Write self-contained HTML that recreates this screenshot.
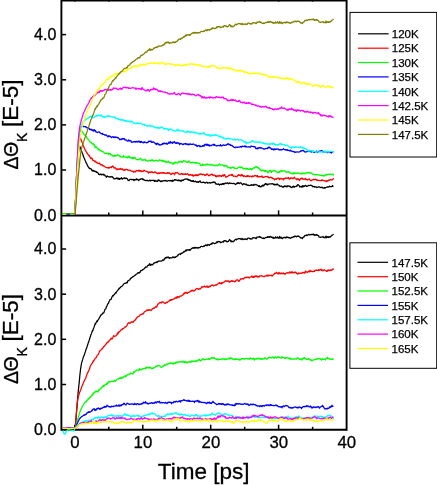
<!DOCTYPE html>
<html><head><meta charset="utf-8"><title>Kerr rotation vs time</title>
<style>
html,body{margin:0;padding:0;background:#fff;}
body{width:437px;height:485px;overflow:hidden;}
svg{display:block;}
</style></head>
<body>
<svg width="437" height="485" viewBox="0 0 437 485">
<rect x="0" y="0" width="437" height="485" fill="#ffffff"/>
<g id="axes">
<g stroke="#000" stroke-width="1.9" fill="none" stroke-linecap="butt">
<line x1="61.4" y1="0" x2="61.4" y2="430.7"/>
<line x1="346.6" y1="0" x2="346.6" y2="430.7"/>
<line x1="61.4" y1="0.5" x2="346.6" y2="0.5"/>
<line x1="61.4" y1="215.5" x2="346.6" y2="215.5"/>
<line x1="61.4" y1="429.75" x2="346.6" y2="429.75"/>
</g>
<g stroke="#000" stroke-width="1.5" fill="none">
<line x1="74.8" y1="0.5" x2="74.8" y2="2.0" stroke-opacity="0.6"/>
<line x1="74.8" y1="215.5" x2="74.8" y2="210.4"/>
<line x1="74.8" y1="429.75" x2="74.8" y2="424.7"/>
<line x1="108.8" y1="0.5" x2="108.8" y2="2.0" stroke-opacity="0.6"/>
<line x1="108.8" y1="215.5" x2="108.8" y2="212.5"/>
<line x1="108.8" y1="429.75" x2="108.8" y2="426.8"/>
<line x1="142.8" y1="0.5" x2="142.8" y2="2.0" stroke-opacity="0.6"/>
<line x1="142.8" y1="215.5" x2="142.8" y2="210.4"/>
<line x1="142.8" y1="429.75" x2="142.8" y2="424.7"/>
<line x1="176.7" y1="0.5" x2="176.7" y2="2.0" stroke-opacity="0.6"/>
<line x1="176.7" y1="215.5" x2="176.7" y2="212.5"/>
<line x1="176.7" y1="429.75" x2="176.7" y2="426.8"/>
<line x1="210.7" y1="0.5" x2="210.7" y2="2.0" stroke-opacity="0.6"/>
<line x1="210.7" y1="215.5" x2="210.7" y2="210.4"/>
<line x1="210.7" y1="429.75" x2="210.7" y2="424.7"/>
<line x1="244.7" y1="0.5" x2="244.7" y2="2.0" stroke-opacity="0.6"/>
<line x1="244.7" y1="215.5" x2="244.7" y2="212.5"/>
<line x1="244.7" y1="429.75" x2="244.7" y2="426.8"/>
<line x1="278.6" y1="0.5" x2="278.6" y2="2.0" stroke-opacity="0.6"/>
<line x1="278.6" y1="215.5" x2="278.6" y2="210.4"/>
<line x1="278.6" y1="429.75" x2="278.6" y2="424.7"/>
<line x1="312.6" y1="0.5" x2="312.6" y2="2.0" stroke-opacity="0.6"/>
<line x1="312.6" y1="215.5" x2="312.6" y2="212.5"/>
<line x1="312.6" y1="429.75" x2="312.6" y2="426.8"/>
<line x1="61.4" y1="170.0" x2="66.1" y2="170.0"/>
<line x1="61.4" y1="124.9" x2="66.1" y2="124.9"/>
<line x1="61.4" y1="79.8" x2="66.1" y2="79.8"/>
<line x1="61.4" y1="34.6" x2="66.1" y2="34.6"/>
<line x1="61.4" y1="384.5" x2="66.1" y2="384.5"/>
<line x1="61.4" y1="339.3" x2="66.1" y2="339.3"/>
<line x1="61.4" y1="294.2" x2="66.1" y2="294.2"/>
<line x1="61.4" y1="249.0" x2="66.1" y2="249.0"/>
</g>
</g>
<g id="top-curves">
<polyline points="62.6,213.7 63.4,213.8 64.2,213.8 65.0,213.8 65.8,213.8 66.6,213.7 67.4,213.7 68.2,213.8 69.0,213.7 69.8,213.7 70.6,213.9 71.4,213.9 72.2,213.9 73.0,213.9 73.8,214.0 74.5,214.0 74.8,213.1 75.2,209.6 75.5,203.9 75.9,197.3 76.2,190.4 76.5,184.3 76.9,177.9 77.2,171.0 77.6,164.3 77.9,158.5 78.2,154.4 78.6,151.6 78.9,149.0 79.3,147.2 79.6,146.4 79.9,146.7 80.3,147.4 80.6,148.4 81.0,149.5 81.3,150.4 81.6,151.2 82.0,152.2 82.3,152.9 82.7,154.0 83.0,155.1 83.3,156.1 83.7,156.8 84.0,157.8 84.4,158.8 84.7,159.0 85.0,160.2 85.4,160.9 85.7,161.6 86.1,162.9 86.4,163.3 86.7,163.6 87.1,164.6 87.4,165.5 87.8,166.0 88.1,166.7 88.4,166.9 88.8,167.6 89.1,168.3 89.5,168.1 89.8,168.6 90.1,168.5 90.5,168.8 90.8,168.6 91.2,169.0 91.5,169.5 91.8,170.4 92.2,170.9 92.5,170.2 92.9,170.6 93.2,171.2 93.5,170.3 93.9,170.8 94.2,170.9 94.6,171.4 94.9,171.3 95.2,171.2 95.6,171.4 95.9,171.6 96.3,172.4 96.6,171.8 96.9,172.1 97.3,172.6 97.6,172.7 98.0,173.1 98.3,173.3 98.6,174.2 99.0,174.2 99.3,174.7 99.7,174.4 100.0,174.2 100.5,174.5 101.0,174.1 101.5,174.8 102.0,174.5 102.5,174.7 103.0,174.1 103.5,175.0 104.0,174.6 104.5,174.8 105.0,175.8 105.5,175.9 106.0,176.4 106.5,177.3 107.0,176.1 107.5,176.1 108.0,176.5 108.5,176.8 109.0,176.7 109.5,176.8 110.0,177.1 110.5,177.0 111.0,176.4 111.5,176.8 112.0,176.8 112.5,176.7 113.0,177.8 113.5,177.9 114.0,178.9 114.5,178.8 115.0,178.8 115.5,178.5 116.0,178.6 116.5,177.9 117.0,178.2 117.5,178.9 118.0,178.0 118.5,179.2 119.0,178.4 119.5,179.4 120.0,178.6 120.5,178.8 121.0,178.3 121.5,177.7 122.0,179.0 122.5,179.1 123.0,178.5 123.5,178.2 124.0,178.1 124.5,177.8 125.0,178.7 125.5,178.1 126.0,178.3 126.5,178.2 127.0,178.6 127.5,178.9 128.0,180.4 128.5,180.3 129.0,180.7 129.5,180.0 130.0,179.3 130.5,179.3 131.0,179.3 131.5,179.6 132.0,179.6 132.5,179.6 133.0,179.3 133.5,179.6 134.0,180.6 134.5,179.7 135.0,179.5 135.5,179.8 136.0,180.0 136.5,178.8 137.0,179.3 137.5,179.5 138.0,179.4 138.5,180.6 139.0,180.1 139.5,179.8 140.0,179.1 140.5,179.4 141.0,178.9 141.5,179.0 142.0,178.7 142.5,178.7 143.0,179.8 143.5,179.2 144.0,179.9 144.5,180.1 145.0,180.3 145.5,180.4 146.0,180.8 146.5,180.4 147.0,180.3 147.5,180.3 148.0,180.8 148.5,180.8 149.0,180.8 149.5,180.4 150.0,180.1 150.5,180.9 151.0,180.7 151.5,180.3 152.0,180.4 152.5,180.3 153.0,180.4 153.5,180.6 154.0,180.4 154.5,181.4 155.0,180.4 155.5,181.1 156.0,180.9 156.5,181.1 157.0,181.5 157.5,181.3 158.0,180.1 158.5,179.8 159.0,180.8 159.5,180.3 160.0,181.0 160.5,181.7 161.0,181.1 161.5,180.9 162.0,181.5 162.5,181.1 163.0,180.8 163.5,180.9 164.0,180.7 164.5,180.5 165.0,180.9 165.5,180.5 166.0,180.3 166.5,181.2 167.0,181.0 167.5,181.1 168.0,180.6 168.5,180.7 169.0,180.6 169.5,180.7 170.0,181.0 170.5,180.4 171.0,180.7 171.5,180.7 172.0,181.4 172.5,180.2 173.0,181.1 173.5,180.7 174.0,180.4 174.5,179.5 175.0,179.7 175.5,180.2 176.0,179.9 176.5,180.1 177.0,180.1 177.5,180.7 178.0,180.4 178.5,179.9 179.0,180.8 179.5,180.6 180.0,180.1 180.5,180.9 181.0,181.3 181.5,180.6 182.0,180.0 182.5,180.0 183.0,180.6 183.5,180.0 184.0,179.6 184.5,179.3 185.0,179.0 185.5,179.0 186.0,179.0 186.5,179.1 187.0,178.8 187.5,179.5 188.0,179.2 188.5,180.2 189.0,179.7 189.5,180.3 190.0,180.5 190.5,180.1 191.0,181.3 191.5,181.2 192.0,180.6 192.5,181.3 193.0,181.5 193.5,180.6 194.0,181.7 194.5,181.6 195.0,181.6 195.5,181.2 196.0,181.7 196.5,181.9 197.0,182.4 197.5,181.9 198.0,181.7 198.5,182.4 199.0,181.5 199.5,181.4 200.0,180.8 200.5,182.2 201.0,182.2 201.5,182.5 202.0,182.6 202.5,182.3 203.0,182.3 203.5,182.2 204.0,182.4 204.5,182.6 205.0,183.2 205.5,182.8 206.0,182.5 206.5,182.3 207.0,182.2 207.5,183.1 208.0,182.9 208.5,182.9 209.0,182.8 209.5,182.5 210.0,182.9 210.5,183.2 211.0,182.6 211.5,182.6 212.0,182.6 212.5,182.6 213.0,181.9 213.5,182.3 214.0,182.0 214.5,182.7 215.0,182.2 215.5,183.2 216.0,184.2 216.5,183.9 217.0,184.0 217.5,184.3 218.0,184.2 218.5,183.9 219.0,184.5 219.5,185.2 220.0,184.3 220.5,184.4 221.0,184.2 221.5,184.6 222.0,183.8 222.5,183.7 223.0,184.4 223.5,183.5 224.0,184.0 224.5,183.8 225.0,183.0 225.5,183.0 226.0,183.7 226.5,183.1 227.0,183.1 227.5,182.8 228.0,183.3 228.5,183.8 229.0,183.5 229.5,182.9 230.0,183.1 230.5,183.2 231.0,183.5 231.5,183.3 232.0,183.5 232.5,183.5 233.0,183.3 233.5,183.4 234.0,183.6 234.5,183.7 235.0,184.1 235.5,184.6 236.0,184.0 236.5,183.7 237.0,183.0 237.5,183.6 238.0,182.6 238.5,182.7 239.0,183.5 239.5,183.5 240.0,183.1 240.5,182.6 241.0,183.2 241.5,183.3 242.0,184.0 242.5,184.8 243.0,184.2 243.5,183.9 244.0,183.7 244.5,184.2 245.0,184.2 245.5,184.1 246.0,184.8 246.5,184.2 247.0,185.0 247.5,185.0 248.0,185.4 248.5,185.1 249.0,185.7 249.5,185.5 250.0,185.4 250.5,185.4 251.0,184.9 251.5,184.6 252.0,185.3 252.5,184.9 253.0,185.1 253.5,185.4 254.0,184.3 254.5,184.6 255.0,184.8 255.5,184.7 256.0,184.3 256.5,185.0 257.0,185.1 257.5,185.1 258.0,185.6 258.5,186.4 259.0,186.4 259.5,185.6 260.0,186.9 260.5,186.7 261.0,186.9 261.5,186.1 262.0,185.8 262.5,185.2 263.0,186.3 263.5,185.1 264.0,185.5 264.5,184.4 265.0,184.5 265.5,183.5 266.0,184.0 266.5,184.5 267.0,183.8 267.5,184.9 268.0,184.7 268.5,184.1 269.0,184.1 269.5,183.9 270.0,183.9 270.5,183.8 271.0,183.8 271.5,184.0 272.0,183.7 272.5,183.6 273.0,184.1 273.5,184.6 274.0,184.0 274.5,184.8 275.0,184.6 275.5,184.4 276.0,184.9 276.5,184.2 277.0,184.8 277.5,184.0 278.0,184.7 278.5,185.0 279.0,185.3 279.5,186.1 280.0,185.9 280.5,186.3 281.0,186.2 281.5,186.0 282.0,186.6 282.5,186.9 283.0,187.3 283.5,186.5 284.0,186.6 284.5,185.8 285.0,186.7 285.5,186.2 286.0,186.0 286.5,186.6 287.0,186.9 287.5,185.8 288.0,185.9 288.5,186.2 289.0,186.0 289.5,186.6 290.0,186.2 290.5,186.6 291.0,187.5 291.5,187.3 292.0,187.7 292.5,186.8 293.0,186.4 293.5,186.1 294.0,187.4 294.5,186.5 295.0,186.7 295.5,186.5 296.0,186.4 296.5,186.0 297.0,186.3 297.5,184.8 298.0,184.6 298.5,185.0 299.0,185.3 299.5,186.5 300.0,187.0 300.5,186.6 301.0,186.4 301.5,186.7 302.0,187.4 302.5,185.6 303.0,186.7 303.5,185.9 304.0,186.6 304.5,185.8 305.0,186.0 305.5,185.3 306.0,185.5 306.5,186.4 307.0,186.4 307.5,186.0 308.0,185.8 308.5,185.3 309.0,185.6 309.5,185.5 310.0,185.4 310.5,185.4 311.0,185.1 311.5,185.6 312.0,185.6 312.5,186.3 313.0,186.8 313.5,186.4 314.0,186.4 314.5,187.0 315.0,186.8 315.5,186.8 316.0,187.2 316.5,187.0 317.0,187.6 317.5,187.1 318.0,187.1 318.5,186.8 319.0,186.8 319.5,186.9 320.0,187.4 320.5,187.3 321.0,187.6 321.5,187.5 322.0,187.1 322.5,187.9 323.0,187.6 323.5,188.1 324.0,188.2 324.5,187.5 325.0,188.1 325.5,187.8 326.0,187.5 326.5,187.2 327.0,187.2 327.5,186.9 328.0,187.1 328.5,186.8 329.0,186.8 329.5,186.2 330.0,186.7 330.5,186.7 331.0,186.7 331.5,186.5 332.0,186.6 332.5,185.5 333.0,186.3 333.5,186.5" fill="none" stroke="#000000" stroke-width="1.25" stroke-linejoin="round"/>
<polyline points="62.6,214.0 63.4,214.0 64.2,214.2 65.0,214.1 65.8,214.4 66.6,214.2 67.4,214.1 68.2,214.3 69.0,214.3 69.8,214.2 70.6,214.0 71.4,214.0 72.2,214.0 73.0,213.7 73.8,213.7 74.5,213.9 74.8,212.8 75.2,208.2 75.5,201.3 75.9,193.3 76.2,185.6 76.5,179.3 76.9,173.7 77.2,168.1 77.6,162.5 77.9,157.4 78.2,152.9 78.6,149.1 78.9,145.6 79.3,142.2 79.6,139.5 79.9,138.1 80.3,138.0 80.6,138.4 81.0,139.4 81.3,140.2 81.6,141.2 82.0,142.0 82.3,142.8 82.7,143.7 83.0,144.8 83.3,145.9 83.7,146.4 84.0,147.7 84.4,148.1 84.7,148.9 85.0,149.9 85.4,150.3 85.7,150.6 86.1,151.8 86.4,151.8 86.7,152.5 87.1,153.0 87.4,153.8 87.8,153.9 88.1,154.8 88.4,154.8 88.8,155.7 89.1,155.5 89.5,156.0 89.8,157.2 90.1,157.2 90.5,157.5 90.8,158.5 91.2,158.0 91.5,157.9 91.8,158.7 92.2,158.5 92.5,159.8 92.9,160.3 93.2,160.1 93.5,160.4 93.9,160.9 94.2,161.0 94.6,160.9 94.9,161.8 95.2,161.0 95.6,161.8 95.9,161.9 96.3,162.1 96.6,162.6 96.9,162.3 97.3,163.2 97.6,163.2 98.0,163.4 98.3,163.3 98.6,163.4 99.0,163.7 99.3,163.0 99.7,163.3 100.0,164.0 100.5,164.4 101.0,165.1 101.5,164.7 102.0,164.6 102.5,165.6 103.0,165.6 103.5,166.1 104.0,165.8 104.5,166.5 105.0,166.8 105.5,167.2 106.0,167.5 106.5,167.6 107.0,167.6 107.5,167.7 108.0,168.1 108.5,167.5 109.0,168.2 109.5,167.3 110.0,167.6 110.5,167.1 111.0,167.0 111.5,167.7 112.0,166.5 112.5,166.0 113.0,166.3 113.5,166.7 114.0,168.0 114.5,167.6 115.0,168.2 115.5,167.9 116.0,168.8 116.5,169.3 117.0,169.9 117.5,168.9 118.0,169.3 118.5,169.2 119.0,168.8 119.5,169.3 120.0,169.2 120.5,168.3 121.0,169.3 121.5,169.4 122.0,169.1 122.5,168.8 123.0,170.0 123.5,169.8 124.0,170.3 124.5,170.4 125.0,169.5 125.5,169.8 126.0,169.2 126.5,169.4 127.0,169.5 127.5,169.7 128.0,170.3 128.5,170.0 129.0,170.0 129.5,170.2 130.0,170.6 130.5,170.4 131.0,170.8 131.5,171.1 132.0,171.0 132.5,171.3 133.0,171.2 133.5,172.3 134.0,172.0 134.5,171.6 135.0,171.2 135.5,171.9 136.0,171.0 136.5,170.5 137.0,170.5 137.5,170.5 138.0,170.9 138.5,170.3 139.0,171.2 139.5,170.4 140.0,171.2 140.5,170.6 141.0,171.7 141.5,171.0 142.0,171.2 142.5,171.6 143.0,171.5 143.5,170.4 144.0,170.6 144.5,170.3 145.0,171.0 145.5,171.0 146.0,171.2 146.5,171.3 147.0,171.6 147.5,171.6 148.0,172.4 148.5,173.0 149.0,171.8 149.5,172.4 150.0,172.2 150.5,172.5 151.0,171.9 151.5,172.1 152.0,171.7 152.5,172.5 153.0,172.5 153.5,172.5 154.0,172.6 154.5,172.3 155.0,171.7 155.5,172.5 156.0,172.6 156.5,172.8 157.0,173.5 157.5,173.8 158.0,172.9 158.5,172.9 159.0,173.7 159.5,173.5 160.0,172.7 160.5,172.7 161.0,173.1 161.5,173.2 162.0,172.6 162.5,173.0 163.0,172.5 163.5,172.6 164.0,173.4 164.5,172.8 165.0,173.1 165.5,173.4 166.0,173.5 166.5,173.1 167.0,173.1 167.5,172.7 168.0,173.6 168.5,173.1 169.0,172.5 169.5,173.1 170.0,173.6 170.5,173.9 171.0,174.5 171.5,174.3 172.0,173.4 172.5,173.5 173.0,173.1 173.5,173.7 174.0,173.8 174.5,174.8 175.0,173.6 175.5,172.5 176.0,172.9 176.5,173.0 177.0,172.3 177.5,172.5 178.0,173.1 178.5,173.9 179.0,174.0 179.5,174.0 180.0,174.6 180.5,174.0 181.0,173.9 181.5,173.5 182.0,173.8 182.5,174.5 183.0,173.7 183.5,174.2 184.0,174.5 184.5,174.1 185.0,174.3 185.5,173.7 186.0,174.5 186.5,174.4 187.0,174.1 187.5,173.6 188.0,174.0 188.5,174.9 189.0,175.3 189.5,174.8 190.0,175.1 190.5,174.5 191.0,174.8 191.5,175.1 192.0,175.3 192.5,174.7 193.0,175.9 193.5,176.2 194.0,175.3 194.5,175.1 195.0,175.7 195.5,175.3 196.0,174.6 196.5,175.6 197.0,175.2 197.5,174.8 198.0,175.7 198.5,174.9 199.0,174.4 199.5,174.6 200.0,174.0 200.5,173.9 201.0,174.4 201.5,174.1 202.0,174.2 202.5,174.8 203.0,174.3 203.5,174.3 204.0,174.5 204.5,174.9 205.0,175.5 205.5,174.9 206.0,175.4 206.5,174.1 207.0,174.4 207.5,174.1 208.0,174.9 208.5,175.4 209.0,175.8 209.5,175.0 210.0,175.2 210.5,174.9 211.0,174.5 211.5,174.1 212.0,174.7 212.5,174.4 213.0,175.4 213.5,175.5 214.0,175.2 214.5,175.1 215.0,175.1 215.5,176.6 216.0,175.6 216.5,176.8 217.0,176.4 217.5,176.0 218.0,175.5 218.5,176.2 219.0,176.3 219.5,175.4 220.0,175.6 220.5,176.1 221.0,175.8 221.5,176.5 222.0,175.5 222.5,175.8 223.0,174.9 223.5,176.1 224.0,175.0 224.5,174.6 225.0,175.8 225.5,176.2 226.0,177.5 226.5,176.8 227.0,176.8 227.5,176.5 228.0,176.3 228.5,175.3 229.0,175.5 229.5,175.3 230.0,174.9 230.5,175.0 231.0,175.0 231.5,174.5 232.0,175.3 232.5,174.5 233.0,175.9 233.5,176.3 234.0,176.2 234.5,176.0 235.0,176.1 235.5,176.3 236.0,176.6 236.5,176.5 237.0,176.7 237.5,175.7 238.0,175.6 238.5,174.6 239.0,175.4 239.5,175.2 240.0,175.2 240.5,176.0 241.0,175.9 241.5,174.5 242.0,175.6 242.5,175.0 243.0,175.9 243.5,176.5 244.0,175.6 244.5,176.1 245.0,176.2 245.5,176.6 246.0,176.7 246.5,176.7 247.0,175.6 247.5,176.4 248.0,175.5 248.5,176.1 249.0,176.7 249.5,176.6 250.0,176.0 250.5,176.2 251.0,176.3 251.5,176.5 252.0,176.9 252.5,175.9 253.0,176.6 253.5,176.5 254.0,176.1 254.5,175.6 255.0,175.8 255.5,175.5 256.0,175.8 256.5,175.9 257.0,176.6 257.5,175.5 258.0,177.0 258.5,176.7 259.0,176.9 259.5,176.8 260.0,176.4 260.5,176.8 261.0,176.4 261.5,176.6 262.0,175.9 262.5,177.3 263.0,177.2 263.5,177.3 264.0,177.2 264.5,177.1 265.0,176.7 265.5,176.6 266.0,176.6 266.5,176.6 267.0,176.3 267.5,176.8 268.0,176.7 268.5,177.2 269.0,178.0 269.5,177.7 270.0,177.6 270.5,177.2 271.0,177.3 271.5,177.3 272.0,178.3 272.5,178.0 273.0,178.6 273.5,178.6 274.0,179.1 274.5,179.8 275.0,179.0 275.5,179.1 276.0,178.8 276.5,179.3 277.0,178.4 277.5,178.3 278.0,178.2 278.5,178.2 279.0,178.9 279.5,179.6 280.0,178.2 280.5,178.9 281.0,178.9 281.5,178.6 282.0,178.9 282.5,179.0 283.0,178.9 283.5,179.9 284.0,178.3 284.5,178.9 285.0,178.5 285.5,177.9 286.0,178.0 286.5,178.3 287.0,178.1 287.5,178.2 288.0,178.4 288.5,177.5 289.0,178.9 289.5,179.2 290.0,178.5 290.5,178.5 291.0,177.6 291.5,178.1 292.0,178.0 292.5,178.3 293.0,178.8 293.5,177.8 294.0,177.8 294.5,177.2 295.0,178.3 295.5,178.9 296.0,178.9 296.5,178.9 297.0,179.9 297.5,178.6 298.0,178.7 298.5,179.0 299.0,180.0 299.5,180.5 300.0,179.6 300.5,178.8 301.0,178.4 301.5,178.7 302.0,178.0 302.5,179.0 303.0,179.3 303.5,178.9 304.0,179.1 304.5,179.0 305.0,179.3 305.5,178.4 306.0,179.6 306.5,179.4 307.0,179.5 307.5,180.0 308.0,179.8 308.5,179.4 309.0,178.9 309.5,179.0 310.0,180.1 310.5,180.7 311.0,180.5 311.5,180.7 312.0,179.9 312.5,179.8 313.0,179.8 313.5,179.3 314.0,179.4 314.5,179.8 315.0,179.5 315.5,179.2 316.0,179.8 316.5,179.7 317.0,180.3 317.5,180.1 318.0,180.2 318.5,180.5 319.0,180.6 319.5,180.4 320.0,180.5 320.5,180.7 321.0,180.5 321.5,180.6 322.0,179.6 322.5,180.3 323.0,180.4 323.5,180.7 324.0,180.5 324.5,180.5 325.0,181.1 325.5,181.1 326.0,180.7 326.5,181.7 327.0,181.4 327.5,180.6 328.0,180.9 328.5,180.1 329.0,180.7 329.5,180.0 330.0,179.7 330.5,179.9 331.0,179.7 331.5,180.0 332.0,179.8 332.5,179.6 333.0,179.2 333.5,178.0" fill="none" stroke="#ff0000" stroke-width="1.25" stroke-linejoin="round"/>
<polyline points="62.6,214.1 63.4,214.0 64.2,213.8 65.0,214.0 65.8,214.1 66.6,214.1 67.4,214.2 68.2,214.2 69.0,214.3 69.8,214.0 70.6,214.0 71.4,214.1 72.2,213.8 73.0,213.8 73.8,213.8 74.5,213.8 74.8,212.8 75.2,208.1 75.5,200.8 75.9,192.4 76.2,184.1 76.5,177.3 76.9,170.9 77.2,164.6 77.6,158.4 77.9,152.8 78.2,148.0 78.6,144.2 78.9,140.7 79.3,137.4 79.6,134.5 79.9,132.2 80.3,130.6 80.6,130.1 81.0,130.3 81.3,130.5 81.6,130.8 82.0,131.1 82.3,131.8 82.7,132.4 83.0,132.8 83.3,133.3 83.7,133.7 84.0,134.3 84.4,134.7 84.7,135.1 85.0,135.2 85.4,135.6 85.7,136.1 86.1,136.3 86.4,136.7 86.7,137.4 87.1,138.3 87.4,138.4 87.8,139.1 88.1,139.1 88.4,139.5 88.8,139.7 89.1,140.4 89.5,141.4 89.8,141.5 90.1,142.0 90.5,142.3 90.8,142.2 91.2,142.3 91.5,142.7 91.8,143.3 92.2,143.7 92.5,144.0 92.9,144.0 93.2,143.6 93.5,144.0 93.9,144.2 94.2,145.6 94.6,145.1 94.9,146.3 95.2,147.7 95.6,146.8 95.9,146.6 96.3,147.1 96.6,147.8 96.9,147.5 97.3,148.1 97.6,148.3 98.0,148.5 98.3,150.1 98.6,149.1 99.0,149.1 99.3,149.4 99.7,150.0 100.0,150.2 100.5,150.7 101.0,150.9 101.5,150.7 102.0,151.7 102.5,151.5 103.0,151.7 103.5,151.8 104.0,152.7 104.5,153.1 105.0,153.6 105.5,153.1 106.0,153.7 106.5,153.6 107.0,153.2 107.5,153.6 108.0,153.6 108.5,154.4 109.0,153.0 109.5,153.8 110.0,153.5 110.5,154.2 111.0,155.0 111.5,154.7 112.0,155.2 112.5,155.1 113.0,156.4 113.5,156.2 114.0,156.4 114.5,155.3 115.0,155.2 115.5,156.1 116.0,155.7 116.5,155.7 117.0,155.6 117.5,154.6 118.0,155.1 118.5,155.0 119.0,155.7 119.5,155.9 120.0,156.7 120.5,156.4 121.0,157.1 121.5,157.2 122.0,157.1 122.5,156.8 123.0,156.7 123.5,155.4 124.0,157.0 124.5,156.8 125.0,157.1 125.5,157.1 126.0,156.8 126.5,157.2 127.0,157.7 127.5,157.8 128.0,156.6 128.5,156.2 129.0,157.1 129.5,156.4 130.0,157.9 130.5,157.5 131.0,157.4 131.5,158.2 132.0,158.6 132.5,157.5 133.0,158.6 133.5,157.7 134.0,158.3 134.5,157.6 135.0,157.4 135.5,158.6 136.0,159.1 136.5,159.7 137.0,159.7 137.5,159.6 138.0,159.5 138.5,159.6 139.0,159.6 139.5,159.1 140.0,159.0 140.5,158.1 141.0,159.2 141.5,159.3 142.0,160.5 142.5,160.1 143.0,159.8 143.5,160.2 144.0,159.6 144.5,159.7 145.0,159.2 145.5,160.6 146.0,160.6 146.5,160.1 147.0,160.7 147.5,161.2 148.0,161.1 148.5,160.8 149.0,160.2 149.5,160.3 150.0,160.6 150.5,161.0 151.0,160.2 151.5,159.9 152.0,160.6 152.5,159.8 153.0,160.7 153.5,160.5 154.0,160.8 154.5,161.1 155.0,160.6 155.5,160.6 156.0,160.1 156.5,160.3 157.0,160.8 157.5,161.1 158.0,160.8 158.5,160.9 159.0,160.0 159.5,159.9 160.0,160.4 160.5,160.3 161.0,160.4 161.5,160.1 162.0,161.1 162.5,160.5 163.0,161.3 163.5,160.7 164.0,161.7 164.5,161.0 165.0,161.9 165.5,161.2 166.0,161.9 166.5,162.7 167.0,161.9 167.5,162.0 168.0,161.7 168.5,161.2 169.0,162.5 169.5,162.7 170.0,162.3 170.5,163.0 171.0,162.6 171.5,162.7 172.0,163.3 172.5,163.3 173.0,164.5 173.5,162.8 174.0,163.4 174.5,163.2 175.0,162.0 175.5,162.0 176.0,162.8 176.5,162.4 177.0,162.7 177.5,163.1 178.0,162.7 178.5,162.3 179.0,161.3 179.5,162.0 180.0,161.2 180.5,161.6 181.0,161.8 181.5,161.4 182.0,162.6 182.5,162.2 183.0,161.8 183.5,160.7 184.0,160.8 184.5,160.8 185.0,161.1 185.5,161.1 186.0,162.0 186.5,162.2 187.0,162.3 187.5,161.9 188.0,162.4 188.5,161.9 189.0,160.9 189.5,161.9 190.0,162.4 190.5,162.9 191.0,162.5 191.5,162.6 192.0,162.3 192.5,162.7 193.0,162.3 193.5,162.3 194.0,162.4 194.5,163.1 195.0,162.9 195.5,162.6 196.0,163.4 196.5,162.7 197.0,162.9 197.5,162.8 198.0,163.2 198.5,163.3 199.0,163.1 199.5,163.7 200.0,163.9 200.5,165.4 201.0,165.2 201.5,165.6 202.0,164.8 202.5,164.0 203.0,165.3 203.5,164.7 204.0,164.8 204.5,164.9 205.0,165.2 205.5,165.2 206.0,164.2 206.5,164.9 207.0,164.1 207.5,164.0 208.0,164.9 208.5,164.8 209.0,164.7 209.5,164.4 210.0,165.2 210.5,165.2 211.0,164.9 211.5,164.5 212.0,164.8 212.5,164.7 213.0,165.2 213.5,165.4 214.0,165.6 214.5,165.1 215.0,165.6 215.5,165.7 216.0,165.1 216.5,165.1 217.0,165.9 217.5,165.3 218.0,165.5 218.5,164.9 219.0,164.9 219.5,163.9 220.0,164.4 220.5,164.9 221.0,165.3 221.5,165.0 222.0,164.8 222.5,164.9 223.0,165.1 223.5,165.7 224.0,166.2 224.5,165.5 225.0,166.0 225.5,165.4 226.0,165.4 226.5,166.1 227.0,166.1 227.5,166.5 228.0,167.7 228.5,167.3 229.0,167.4 229.5,167.8 230.0,168.0 230.5,167.5 231.0,168.3 231.5,167.9 232.0,167.6 232.5,167.6 233.0,167.0 233.5,167.5 234.0,168.0 234.5,168.5 235.0,168.1 235.5,168.1 236.0,168.4 236.5,168.5 237.0,168.3 237.5,168.4 238.0,167.5 238.5,167.3 239.0,167.3 239.5,166.9 240.0,166.9 240.5,167.9 241.0,167.3 241.5,167.0 242.0,167.6 242.5,168.2 243.0,167.9 243.5,168.9 244.0,168.7 244.5,168.7 245.0,168.4 245.5,168.4 246.0,169.0 246.5,168.1 247.0,169.4 247.5,168.6 248.0,169.0 248.5,169.4 249.0,169.3 249.5,169.2 250.0,168.5 250.5,169.2 251.0,168.6 251.5,169.9 252.0,168.8 252.5,169.0 253.0,168.3 253.5,168.2 254.0,167.5 254.5,168.0 255.0,167.1 255.5,167.1 256.0,166.5 256.5,166.6 257.0,167.6 257.5,167.1 258.0,167.3 258.5,168.5 259.0,168.2 259.5,168.8 260.0,169.8 260.5,169.7 261.0,170.7 261.5,170.2 262.0,170.8 262.5,170.5 263.0,170.0 263.5,170.5 264.0,170.5 264.5,171.0 265.0,171.4 265.5,170.4 266.0,171.4 266.5,171.0 267.0,171.7 267.5,171.6 268.0,173.0 268.5,171.8 269.0,171.4 269.5,170.6 270.0,171.2 270.5,170.3 271.0,171.4 271.5,172.4 272.0,171.2 272.5,171.1 273.0,171.1 273.5,170.4 274.0,170.6 274.5,170.9 275.0,170.7 275.5,171.0 276.0,171.1 276.5,171.6 277.0,171.8 277.5,172.6 278.0,172.7 278.5,172.5 279.0,171.6 279.5,172.4 280.0,172.0 280.5,170.9 281.0,170.3 281.5,170.7 282.0,171.6 282.5,170.8 283.0,170.8 283.5,170.8 284.0,171.0 284.5,170.7 285.0,171.0 285.5,171.1 286.0,172.3 286.5,172.4 287.0,172.1 287.5,171.6 288.0,171.6 288.5,172.1 289.0,171.7 289.5,172.7 290.0,172.9 290.5,173.1 291.0,173.5 291.5,173.6 292.0,173.2 292.5,173.4 293.0,174.2 293.5,172.6 294.0,172.9 294.5,173.6 295.0,173.3 295.5,173.1 296.0,172.9 296.5,173.4 297.0,173.3 297.5,173.2 298.0,172.8 298.5,173.4 299.0,173.0 299.5,173.7 300.0,173.6 300.5,173.8 301.0,173.9 301.5,173.8 302.0,172.9 302.5,173.8 303.0,173.3 303.5,173.2 304.0,173.7 304.5,173.2 305.0,173.7 305.5,173.4 306.0,172.9 306.5,173.0 307.0,172.7 307.5,173.0 308.0,172.5 308.5,172.9 309.0,172.4 309.5,172.5 310.0,172.9 310.5,173.3 311.0,172.8 311.5,173.0 312.0,173.6 312.5,174.1 313.0,174.2 313.5,174.4 314.0,174.7 314.5,174.7 315.0,174.8 315.5,174.6 316.0,174.6 316.5,174.7 317.0,174.9 317.5,174.9 318.0,174.8 318.5,174.7 319.0,175.0 319.5,175.0 320.0,175.3 320.5,175.5 321.0,175.3 321.5,175.1 322.0,175.6 322.5,175.6 323.0,175.4 323.5,175.3 324.0,176.3 324.5,175.2 325.0,175.3 325.5,175.3 326.0,174.4 326.5,174.6 327.0,175.0 327.5,174.6 328.0,174.4 328.5,174.3 329.0,174.1 329.5,174.5 330.0,174.3 330.5,174.3 331.0,174.5 331.5,174.6 332.0,174.2 332.5,174.6 333.0,174.0 333.5,175.6" fill="none" stroke="#00ff00" stroke-width="1.25" stroke-linejoin="round"/>
<polyline points="62.6,214.2 63.4,214.1 64.2,214.0 65.0,214.0 65.8,214.0 66.6,214.1 67.4,213.9 68.2,213.9 69.0,213.9 69.8,213.7 70.6,213.8 71.4,213.8 72.2,213.7 73.0,213.8 73.8,213.8 74.5,213.8 74.8,212.7 75.2,208.0 75.5,201.0 75.9,192.5 76.2,184.2 76.5,177.2 76.9,170.6 77.2,163.6 77.6,156.7 77.9,150.4 78.2,145.1 78.6,141.1 78.9,137.8 79.3,134.8 79.6,132.1 79.9,130.0 80.3,128.5 80.6,127.9 81.0,127.5 81.3,127.0 81.6,126.7 82.0,126.3 82.3,126.4 82.7,126.0 83.0,126.1 83.3,126.5 83.7,126.3 84.0,126.7 84.4,126.7 84.7,126.6 85.0,126.4 85.4,126.7 85.7,126.7 86.1,127.3 86.4,127.7 86.7,127.4 87.1,127.8 87.4,127.9 87.8,127.8 88.1,127.8 88.4,128.3 88.8,128.4 89.1,128.4 89.5,129.1 89.8,129.5 90.1,129.1 90.5,129.1 90.8,129.9 91.2,130.0 91.5,129.3 91.8,129.6 92.2,130.4 92.5,130.0 92.9,130.6 93.2,130.7 93.5,131.0 93.9,129.7 94.2,129.6 94.6,130.0 94.9,131.0 95.2,130.9 95.6,130.6 95.9,131.8 96.3,132.2 96.6,132.0 96.9,132.0 97.3,132.3 97.6,132.6 98.0,132.1 98.3,132.1 98.6,131.9 99.0,131.9 99.3,131.9 99.7,132.6 100.0,132.7 100.5,133.0 101.0,133.6 101.5,133.6 102.0,134.0 102.5,133.3 103.0,134.5 103.5,134.3 104.0,134.5 104.5,134.6 105.0,135.3 105.5,135.2 106.0,134.8 106.5,135.1 107.0,136.0 107.5,136.1 108.0,137.0 108.5,135.9 109.0,135.7 109.5,136.3 110.0,136.4 110.5,136.6 111.0,137.1 111.5,137.7 112.0,136.8 112.5,136.8 113.0,136.6 113.5,137.4 114.0,137.6 114.5,137.0 115.0,137.4 115.5,136.9 116.0,137.5 116.5,137.4 117.0,137.2 117.5,137.8 118.0,137.7 118.5,137.8 119.0,138.7 119.5,139.1 120.0,139.8 120.5,139.3 121.0,139.5 121.5,139.0 122.0,139.3 122.5,138.7 123.0,138.3 123.5,139.0 124.0,139.3 124.5,138.7 125.0,140.0 125.5,140.0 126.0,139.9 126.5,140.0 127.0,140.9 127.5,141.0 128.0,141.2 128.5,140.0 129.0,140.3 129.5,141.0 130.0,140.4 130.5,140.8 131.0,140.8 131.5,142.4 132.0,142.3 132.5,142.1 133.0,142.0 133.5,141.7 134.0,141.6 134.5,141.9 135.0,141.3 135.5,142.1 136.0,141.5 136.5,141.3 137.0,142.1 137.5,141.5 138.0,141.8 138.5,141.6 139.0,141.0 139.5,142.2 140.0,141.6 140.5,142.5 141.0,141.5 141.5,141.4 142.0,142.3 142.5,142.5 143.0,142.5 143.5,142.1 144.0,142.8 144.5,141.9 145.0,142.4 145.5,142.3 146.0,142.5 146.5,142.9 147.0,142.3 147.5,142.6 148.0,142.4 148.5,141.2 149.0,141.2 149.5,141.3 150.0,141.2 150.5,141.7 151.0,141.0 151.5,142.3 152.0,142.4 152.5,142.1 153.0,141.7 153.5,142.2 154.0,142.1 154.5,142.8 155.0,143.0 155.5,143.8 156.0,143.7 156.5,144.6 157.0,143.2 157.5,143.6 158.0,144.2 158.5,143.8 159.0,144.9 159.5,144.4 160.0,145.1 160.5,144.8 161.0,144.8 161.5,144.7 162.0,144.1 162.5,143.5 163.0,144.3 163.5,143.4 164.0,143.0 164.5,143.6 165.0,143.4 165.5,143.5 166.0,143.9 166.5,143.1 167.0,144.0 167.5,144.0 168.0,143.4 168.5,143.3 169.0,141.9 169.5,142.7 170.0,143.3 170.5,141.7 171.0,142.2 171.5,142.7 172.0,142.9 172.5,143.3 173.0,142.0 173.5,142.6 174.0,142.7 174.5,141.7 175.0,142.2 175.5,143.2 176.0,143.4 176.5,143.4 177.0,142.4 177.5,143.2 178.0,143.2 178.5,142.9 179.0,143.1 179.5,144.6 180.0,143.6 180.5,143.4 181.0,143.9 181.5,143.7 182.0,144.0 182.5,144.3 183.0,144.7 183.5,144.5 184.0,143.7 184.5,143.8 185.0,143.8 185.5,143.5 186.0,144.3 186.5,144.3 187.0,143.7 187.5,144.2 188.0,144.8 188.5,144.6 189.0,144.0 189.5,144.5 190.0,144.0 190.5,143.8 191.0,144.5 191.5,144.4 192.0,144.5 192.5,144.2 193.0,144.3 193.5,143.9 194.0,144.4 194.5,144.8 195.0,144.8 195.5,145.4 196.0,144.8 196.5,145.5 197.0,146.5 197.5,146.4 198.0,145.7 198.5,145.5 199.0,145.3 199.5,146.2 200.0,146.7 200.5,146.0 201.0,146.7 201.5,146.5 202.0,146.4 202.5,145.6 203.0,146.2 203.5,145.3 204.0,146.1 204.5,145.1 205.0,144.2 205.5,145.0 206.0,144.9 206.5,144.2 207.0,145.4 207.5,144.3 208.0,145.0 208.5,145.6 209.0,144.6 209.5,146.0 210.0,145.7 210.5,145.7 211.0,145.3 211.5,145.7 212.0,145.0 212.5,144.8 213.0,144.8 213.5,144.3 214.0,145.4 214.5,144.4 215.0,144.9 215.5,145.3 216.0,145.6 216.5,145.9 217.0,145.9 217.5,145.5 218.0,145.4 218.5,145.5 219.0,145.8 219.5,145.7 220.0,145.2 220.5,144.6 221.0,146.1 221.5,145.7 222.0,145.5 222.5,145.5 223.0,145.0 223.5,144.8 224.0,145.2 224.5,145.4 225.0,145.3 225.5,145.0 226.0,145.2 226.5,145.1 227.0,144.4 227.5,144.3 228.0,143.5 228.5,144.3 229.0,144.6 229.5,144.4 230.0,144.4 230.5,145.4 231.0,145.1 231.5,145.6 232.0,145.4 232.5,146.1 233.0,146.3 233.5,146.5 234.0,147.4 234.5,147.5 235.0,147.8 235.5,147.2 236.0,147.0 236.5,147.3 237.0,147.3 237.5,147.2 238.0,147.3 238.5,147.0 239.0,147.1 239.5,147.1 240.0,146.9 240.5,146.6 241.0,146.4 241.5,147.2 242.0,146.3 242.5,146.2 243.0,146.3 243.5,146.5 244.0,146.7 244.5,146.2 245.0,145.9 245.5,146.9 246.0,146.2 246.5,146.9 247.0,146.8 247.5,147.0 248.0,147.2 248.5,146.9 249.0,146.9 249.5,146.9 250.0,147.1 250.5,147.2 251.0,146.0 251.5,146.4 252.0,146.3 252.5,146.5 253.0,146.3 253.5,146.6 254.0,146.5 254.5,146.9 255.0,146.7 255.5,147.9 256.0,148.8 256.5,148.4 257.0,148.6 257.5,148.0 258.0,148.8 258.5,147.8 259.0,148.1 259.5,147.7 260.0,147.4 260.5,148.2 261.0,147.9 261.5,147.9 262.0,148.1 262.5,148.2 263.0,148.5 263.5,149.1 264.0,149.0 264.5,149.2 265.0,148.8 265.5,148.4 266.0,148.6 266.5,148.5 267.0,148.4 267.5,148.7 268.0,147.4 268.5,147.9 269.0,147.0 269.5,147.5 270.0,148.0 270.5,147.8 271.0,148.4 271.5,149.4 272.0,149.4 272.5,149.1 273.0,148.8 273.5,150.0 274.0,149.2 274.5,148.9 275.0,149.8 275.5,149.4 276.0,148.8 276.5,149.3 277.0,148.9 277.5,149.2 278.0,149.2 278.5,149.0 279.0,150.0 279.5,149.9 280.0,149.5 280.5,149.5 281.0,150.1 281.5,149.5 282.0,149.5 282.5,149.6 283.0,149.3 283.5,148.6 284.0,149.5 284.5,149.6 285.0,149.7 285.5,150.1 286.0,149.6 286.5,149.9 287.0,150.4 287.5,149.7 288.0,150.5 288.5,150.4 289.0,150.2 289.5,150.8 290.0,150.6 290.5,150.1 291.0,151.1 291.5,151.0 292.0,151.3 292.5,151.3 293.0,151.7 293.5,151.5 294.0,151.3 294.5,152.1 295.0,152.4 295.5,152.0 296.0,152.1 296.5,152.1 297.0,151.8 297.5,151.9 298.0,152.0 298.5,152.2 299.0,152.0 299.5,151.8 300.0,151.6 300.5,151.5 301.0,150.7 301.5,151.0 302.0,150.7 302.5,150.4 303.0,150.4 303.5,150.7 304.0,151.3 304.5,151.4 305.0,152.2 305.5,152.0 306.0,151.9 306.5,151.8 307.0,151.7 307.5,151.2 308.0,151.4 308.5,150.8 309.0,150.4 309.5,150.5 310.0,151.8 310.5,150.6 311.0,151.6 311.5,152.0 312.0,151.0 312.5,151.6 313.0,151.6 313.5,151.5 314.0,152.5 314.5,152.3 315.0,152.1 315.5,152.4 316.0,151.8 316.5,151.1 317.0,151.1 317.5,152.5 318.0,151.6 318.5,151.6 319.0,151.1 319.5,151.2 320.0,151.0 320.5,151.0 321.0,150.7 321.5,150.5 322.0,150.7 322.5,151.1 323.0,151.9 323.5,151.6 324.0,152.0 324.5,151.6 325.0,151.7 325.5,151.5 326.0,152.2 326.5,151.6 327.0,152.2 327.5,152.7 328.0,151.9 328.5,152.1 329.0,151.9 329.5,151.9 330.0,152.4 330.5,152.3 331.0,152.7 331.5,153.0 332.0,151.9 332.5,152.0 333.0,151.9 333.5,151.9" fill="none" stroke="#0000ff" stroke-width="1.25" stroke-linejoin="round"/>
<polyline points="62.6,214.0 63.4,214.1 64.2,213.9 65.0,214.1 65.8,214.2 66.6,214.0 67.4,214.1 68.2,213.7 69.0,214.0 69.8,213.9 70.6,213.7 71.4,214.0 72.2,214.0 73.0,214.0 73.8,214.0 74.5,213.9 74.8,212.8 75.2,208.2 75.5,201.2 75.9,192.8 76.2,184.4 76.5,177.2 76.9,170.2 77.2,162.7 77.6,155.3 77.9,148.5 78.2,142.9 78.6,139.4 78.9,136.5 79.3,134.1 79.6,132.0 79.9,130.0 80.3,128.5 80.6,127.3 81.0,126.4 81.3,125.5 81.6,124.7 82.0,124.2 82.3,123.5 82.7,123.0 83.0,122.5 83.3,121.8 83.7,121.6 84.0,121.0 84.4,120.8 84.7,120.4 85.0,119.8 85.4,120.0 85.7,119.3 86.1,119.5 86.4,119.0 86.7,118.6 87.1,118.4 87.4,118.5 87.8,118.4 88.1,118.0 88.4,118.1 88.8,117.4 89.1,117.6 89.5,117.4 89.8,116.7 90.1,117.1 90.5,116.4 90.8,116.0 91.2,116.5 91.5,116.7 91.8,117.1 92.2,116.7 92.5,117.6 92.9,117.7 93.2,117.6 93.5,117.7 93.9,117.3 94.2,116.8 94.6,117.0 94.9,116.8 95.2,116.3 95.6,115.9 95.9,115.4 96.3,116.2 96.6,116.1 96.9,115.5 97.3,115.8 97.6,115.8 98.0,115.3 98.3,115.5 98.6,115.5 99.0,114.8 99.3,115.4 99.7,115.8 100.0,116.0 100.5,116.1 101.0,114.7 101.5,115.4 102.0,116.0 102.5,116.5 103.0,117.2 103.5,116.6 104.0,117.1 104.5,117.0 105.0,117.6 105.5,116.4 106.0,116.9 106.5,116.6 107.0,116.3 107.5,115.3 108.0,115.9 108.5,116.4 109.0,115.7 109.5,116.2 110.0,116.3 110.5,116.7 111.0,116.6 111.5,116.8 112.0,116.8 112.5,117.1 113.0,117.0 113.5,117.2 114.0,116.9 114.5,117.7 115.0,117.0 115.5,118.4 116.0,118.0 116.5,118.7 117.0,118.6 117.5,119.0 118.0,119.3 118.5,118.5 119.0,119.0 119.5,119.4 120.0,120.0 120.5,119.6 121.0,120.1 121.5,119.9 122.0,119.6 122.5,119.8 123.0,119.4 123.5,120.7 124.0,120.4 124.5,121.0 125.0,120.2 125.5,120.5 126.0,121.3 126.5,120.7 127.0,121.5 127.5,121.2 128.0,121.2 128.5,121.3 129.0,121.2 129.5,122.0 130.0,121.7 130.5,121.1 131.0,121.9 131.5,121.2 132.0,122.0 132.5,121.9 133.0,122.4 133.5,123.6 134.0,123.1 134.5,123.2 135.0,123.3 135.5,123.3 136.0,123.9 136.5,123.0 137.0,122.9 137.5,123.5 138.0,122.7 138.5,123.2 139.0,123.8 139.5,123.4 140.0,123.3 140.5,123.3 141.0,123.4 141.5,123.7 142.0,124.2 142.5,124.7 143.0,124.7 143.5,124.1 144.0,124.2 144.5,125.1 145.0,124.5 145.5,125.3 146.0,125.6 146.5,125.6 147.0,125.9 147.5,126.6 148.0,125.8 148.5,125.6 149.0,125.3 149.5,125.5 150.0,125.2 150.5,126.4 151.0,126.0 151.5,126.1 152.0,126.1 152.5,126.0 153.0,126.0 153.5,127.0 154.0,126.9 154.5,127.0 155.0,127.5 155.5,126.9 156.0,127.6 156.5,127.6 157.0,127.6 157.5,128.3 158.0,127.4 158.5,128.2 159.0,127.6 159.5,128.1 160.0,128.3 160.5,127.7 161.0,126.9 161.5,127.1 162.0,127.3 162.5,127.5 163.0,127.8 163.5,128.6 164.0,129.1 164.5,128.5 165.0,129.1 165.5,129.0 166.0,128.6 166.5,128.1 167.0,129.2 167.5,128.9 168.0,130.1 168.5,130.5 169.0,128.9 169.5,129.5 170.0,129.4 170.5,129.2 171.0,128.8 171.5,129.2 172.0,129.3 172.5,130.4 173.0,130.9 173.5,130.6 174.0,130.5 174.5,130.7 175.0,131.0 175.5,131.1 176.0,130.9 176.5,130.7 177.0,129.9 177.5,129.1 178.0,130.3 178.5,130.9 179.0,130.0 179.5,130.4 180.0,130.7 180.5,130.9 181.0,130.8 181.5,130.9 182.0,130.6 182.5,131.0 183.0,131.3 183.5,131.0 184.0,131.6 184.5,131.6 185.0,132.1 185.5,132.0 186.0,132.6 186.5,131.8 187.0,132.2 187.5,131.0 188.0,131.5 188.5,132.1 189.0,131.8 189.5,132.1 190.0,131.5 190.5,132.7 191.0,132.3 191.5,131.9 192.0,132.1 192.5,132.1 193.0,132.6 193.5,132.2 194.0,131.7 194.5,132.3 195.0,133.1 195.5,132.9 196.0,132.4 196.5,132.8 197.0,133.0 197.5,133.6 198.0,133.1 198.5,133.6 199.0,134.2 199.5,133.7 200.0,133.7 200.5,134.1 201.0,133.4 201.5,133.9 202.0,133.8 202.5,133.7 203.0,133.6 203.5,132.8 204.0,132.5 204.5,134.0 205.0,133.9 205.5,134.8 206.0,134.7 206.5,135.0 207.0,135.3 207.5,135.2 208.0,134.4 208.5,135.3 209.0,134.6 209.5,135.2 210.0,136.2 210.5,135.3 211.0,135.8 211.5,135.0 212.0,135.5 212.5,135.4 213.0,135.6 213.5,135.1 214.0,134.9 214.5,135.3 215.0,134.6 215.5,134.9 216.0,135.5 216.5,135.0 217.0,135.0 217.5,135.1 218.0,135.8 218.5,135.8 219.0,136.2 219.5,136.2 220.0,137.1 220.5,136.4 221.0,136.1 221.5,137.2 222.0,137.4 222.5,137.6 223.0,137.2 223.5,138.5 224.0,138.4 224.5,138.7 225.0,138.3 225.5,138.9 226.0,138.5 226.5,138.9 227.0,138.4 227.5,138.2 228.0,138.8 228.5,138.3 229.0,138.8 229.5,138.3 230.0,138.8 230.5,138.9 231.0,139.0 231.5,139.0 232.0,139.0 232.5,139.5 233.0,139.5 233.5,139.9 234.0,139.7 234.5,138.9 235.0,139.5 235.5,140.0 236.0,139.5 236.5,139.5 237.0,139.5 237.5,139.4 238.0,139.2 238.5,140.2 239.0,140.3 239.5,140.0 240.0,139.9 240.5,139.8 241.0,139.6 241.5,140.0 242.0,140.2 242.5,140.7 243.0,140.7 243.5,141.2 244.0,142.0 244.5,142.0 245.0,141.6 245.5,142.7 246.0,141.9 246.5,143.5 247.0,143.1 247.5,143.1 248.0,142.6 248.5,142.5 249.0,142.7 249.5,142.5 250.0,141.9 250.5,142.0 251.0,142.1 251.5,141.9 252.0,140.9 252.5,140.3 253.0,141.2 253.5,141.2 254.0,141.9 254.5,142.3 255.0,142.2 255.5,141.7 256.0,142.0 256.5,142.2 257.0,141.7 257.5,142.0 258.0,142.4 258.5,142.2 259.0,142.0 259.5,141.9 260.0,142.2 260.5,142.0 261.0,142.6 261.5,142.4 262.0,143.1 262.5,143.2 263.0,142.5 263.5,143.5 264.0,143.0 264.5,143.8 265.0,143.7 265.5,143.7 266.0,144.0 266.5,143.5 267.0,143.9 267.5,144.1 268.0,144.0 268.5,144.2 269.0,143.8 269.5,144.4 270.0,143.7 270.5,144.1 271.0,143.8 271.5,143.7 272.0,143.2 272.5,144.5 273.0,143.2 273.5,143.3 274.0,143.2 274.5,144.4 275.0,144.2 275.5,145.1 276.0,144.5 276.5,145.0 277.0,144.8 277.5,145.2 278.0,144.8 278.5,144.5 279.0,144.8 279.5,143.9 280.0,143.7 280.5,144.1 281.0,143.3 281.5,144.5 282.0,144.3 282.5,144.3 283.0,144.7 283.5,145.0 284.0,144.7 284.5,144.8 285.0,145.3 285.5,145.4 286.0,145.2 286.5,145.0 287.0,145.1 287.5,145.4 288.0,146.1 288.5,146.4 289.0,146.7 289.5,147.5 290.0,147.3 290.5,147.6 291.0,147.6 291.5,148.3 292.0,146.7 292.5,147.3 293.0,147.2 293.5,147.0 294.0,147.9 294.5,147.6 295.0,147.5 295.5,146.8 296.0,147.3 296.5,147.0 297.0,147.2 297.5,147.2 298.0,147.0 298.5,147.4 299.0,147.8 299.5,147.7 300.0,147.4 300.5,146.6 301.0,147.6 301.5,147.7 302.0,147.3 302.5,147.4 303.0,148.0 303.5,147.6 304.0,148.5 304.5,148.2 305.0,148.6 305.5,149.2 306.0,148.8 306.5,149.5 307.0,149.9 307.5,149.7 308.0,150.9 308.5,150.6 309.0,150.9 309.5,150.8 310.0,150.7 310.5,150.9 311.0,150.5 311.5,150.9 312.0,150.9 312.5,151.8 313.0,151.5 313.5,150.7 314.0,151.5 314.5,151.5 315.0,151.6 315.5,152.1 316.0,152.3 316.5,151.8 317.0,151.9 317.5,152.0 318.0,151.6 318.5,152.1 319.0,152.1 319.5,151.9 320.0,151.8 320.5,152.1 321.0,152.2 321.5,152.0 322.0,151.7 322.5,152.3 323.0,152.0 323.5,152.0 324.0,152.0 324.5,151.1 325.0,151.4 325.5,151.3 326.0,151.2 326.5,152.2 327.0,151.9 327.5,151.1 328.0,152.0 328.5,151.6 329.0,152.1 329.5,151.7 330.0,151.5 330.5,151.4 331.0,151.4 331.5,151.4 332.0,151.6 332.5,151.7 333.0,151.9 333.5,151.4" fill="none" stroke="#00ffff" stroke-width="1.25" stroke-linejoin="round"/>
<polyline points="62.6,213.8 63.4,213.6 64.2,213.7 65.0,213.8 65.8,213.8 66.6,213.7 67.4,213.6 68.2,213.6 69.0,213.8 69.8,213.8 70.6,213.8 71.4,214.0 72.2,214.2 73.0,214.1 73.8,213.8 74.5,213.9 74.8,212.9 75.2,208.4 75.5,201.3 75.9,193.0 76.2,184.5 76.5,177.1 76.9,169.7 77.2,161.5 77.6,153.6 77.9,146.5 78.2,140.8 78.6,136.6 78.9,133.0 79.3,129.9 79.6,127.7 79.9,125.8 80.3,124.2 80.6,122.8 81.0,121.6 81.3,120.3 81.6,119.3 82.0,117.9 82.3,116.7 82.7,115.7 83.0,114.7 83.3,113.8 83.7,112.8 84.0,112.0 84.4,111.3 84.7,110.4 85.0,109.6 85.4,109.1 85.7,108.3 86.1,107.5 86.4,106.7 86.7,106.1 87.1,105.6 87.4,105.2 87.8,104.9 88.1,103.9 88.4,103.2 88.8,102.9 89.1,102.3 89.5,101.0 89.8,100.4 90.1,100.0 90.5,99.2 90.8,98.8 91.2,97.8 91.5,98.6 91.8,97.9 92.2,97.5 92.5,97.0 92.9,96.5 93.2,96.6 93.5,96.2 93.9,96.3 94.2,95.1 94.6,95.9 94.9,95.2 95.2,95.4 95.6,94.2 95.9,94.2 96.3,94.1 96.6,93.4 96.9,92.6 97.3,92.8 97.6,92.8 98.0,91.9 98.3,91.9 98.6,92.6 99.0,92.2 99.3,92.6 99.7,91.4 100.0,90.7 100.5,90.7 101.0,91.4 101.5,90.6 102.0,91.1 102.5,91.1 103.0,90.3 103.5,90.7 104.0,90.1 104.5,90.1 105.0,89.3 105.5,89.5 106.0,89.2 106.5,90.1 107.0,90.0 107.5,90.3 108.0,90.5 108.5,89.7 109.0,89.6 109.5,89.8 110.0,90.2 110.5,89.4 111.0,90.2 111.5,89.9 112.0,89.7 112.5,89.7 113.0,88.5 113.5,88.0 114.0,88.5 114.5,88.3 115.0,88.2 115.5,88.2 116.0,88.4 116.5,88.3 117.0,89.1 117.5,89.2 118.0,89.7 118.5,89.6 119.0,89.2 119.5,88.5 120.0,88.4 120.5,88.1 121.0,89.6 121.5,88.6 122.0,88.8 122.5,88.8 123.0,87.4 123.5,87.4 124.0,87.5 124.5,87.3 125.0,87.1 125.5,87.2 126.0,87.9 126.5,87.8 127.0,87.6 127.5,87.7 128.0,87.3 128.5,88.4 129.0,88.4 129.5,87.9 130.0,88.4 130.5,88.3 131.0,88.2 131.5,88.0 132.0,87.9 132.5,87.5 133.0,87.8 133.5,87.8 134.0,87.9 134.5,88.0 135.0,88.1 135.5,89.2 136.0,87.9 136.5,89.1 137.0,88.8 137.5,88.7 138.0,88.5 138.5,88.8 139.0,88.5 139.5,88.6 140.0,89.1 140.5,88.6 141.0,89.5 141.5,89.5 142.0,87.5 142.5,88.2 143.0,89.1 143.5,89.4 144.0,89.7 144.5,90.0 145.0,90.2 145.5,90.4 146.0,91.0 146.5,90.4 147.0,90.6 147.5,89.4 148.0,89.9 148.5,89.6 149.0,90.9 149.5,91.3 150.0,90.6 150.5,89.6 151.0,89.8 151.5,89.6 152.0,89.4 152.5,89.6 153.0,89.4 153.5,87.8 154.0,89.2 154.5,88.5 155.0,88.6 155.5,89.6 156.0,89.3 156.5,89.1 157.0,89.3 157.5,90.2 158.0,90.9 158.5,91.3 159.0,90.8 159.5,90.7 160.0,91.6 160.5,90.8 161.0,91.7 161.5,91.4 162.0,91.5 162.5,91.5 163.0,91.9 163.5,92.0 164.0,92.1 164.5,92.2 165.0,92.0 165.5,92.5 166.0,92.5 166.5,92.5 167.0,92.6 167.5,92.8 168.0,93.9 168.5,93.7 169.0,93.8 169.5,94.0 170.0,94.3 170.5,93.8 171.0,93.7 171.5,93.6 172.0,93.8 172.5,94.0 173.0,94.0 173.5,93.1 174.0,93.1 174.5,92.4 175.0,93.9 175.5,94.3 176.0,94.6 176.5,94.3 177.0,94.6 177.5,94.1 178.0,93.9 178.5,93.4 179.0,93.8 179.5,94.2 180.0,94.9 180.5,95.1 181.0,93.8 181.5,93.7 182.0,93.4 182.5,93.1 183.0,92.9 183.5,93.5 184.0,93.2 184.5,93.5 185.0,93.5 185.5,93.6 186.0,93.9 186.5,94.2 187.0,93.5 187.5,94.1 188.0,93.3 188.5,94.3 189.0,94.5 189.5,94.1 190.0,93.7 190.5,94.6 191.0,94.2 191.5,94.8 192.0,94.7 192.5,94.2 193.0,94.1 193.5,94.6 194.0,94.7 194.5,94.6 195.0,95.4 195.5,95.8 196.0,95.8 196.5,95.5 197.0,95.0 197.5,94.8 198.0,94.4 198.5,94.3 199.0,95.4 199.5,95.1 200.0,95.8 200.5,95.5 201.0,96.4 201.5,96.4 202.0,98.1 202.5,96.7 203.0,96.8 203.5,97.7 204.0,98.0 204.5,96.8 205.0,97.7 205.5,98.0 206.0,97.3 206.5,98.3 207.0,98.0 207.5,97.7 208.0,97.7 208.5,97.5 209.0,96.9 209.5,98.2 210.0,97.1 210.5,96.9 211.0,97.5 211.5,97.2 212.0,97.9 212.5,97.4 213.0,97.8 213.5,97.8 214.0,97.8 214.5,97.5 215.0,97.4 215.5,97.8 216.0,96.7 216.5,96.7 217.0,96.8 217.5,97.3 218.0,97.3 218.5,97.5 219.0,96.8 219.5,97.5 220.0,97.5 220.5,97.6 221.0,97.8 221.5,97.0 222.0,97.7 222.5,97.5 223.0,96.9 223.5,97.7 224.0,98.8 224.5,98.4 225.0,98.9 225.5,98.7 226.0,98.6 226.5,99.0 227.0,99.6 227.5,100.6 228.0,100.6 228.5,100.1 229.0,100.9 229.5,100.5 230.0,100.1 230.5,100.3 231.0,99.7 231.5,99.4 232.0,100.6 232.5,99.5 233.0,100.5 233.5,99.8 234.0,100.5 234.5,100.4 235.0,100.3 235.5,99.9 236.0,101.0 236.5,101.5 237.0,101.3 237.5,101.5 238.0,101.7 238.5,100.7 239.0,101.0 239.5,100.5 240.0,101.3 240.5,101.7 241.0,102.7 241.5,102.3 242.0,102.4 242.5,102.9 243.0,102.1 243.5,102.8 244.0,102.2 244.5,102.4 245.0,103.3 245.5,103.2 246.0,103.7 246.5,102.7 247.0,103.4 247.5,103.0 248.0,103.0 248.5,102.4 249.0,103.4 249.5,103.1 250.0,102.8 250.5,102.9 251.0,103.4 251.5,104.6 252.0,104.2 252.5,104.2 253.0,104.4 253.5,104.3 254.0,104.4 254.5,104.9 255.0,105.0 255.5,105.5 256.0,104.9 256.5,105.6 257.0,105.8 257.5,106.2 258.0,106.1 258.5,105.8 259.0,106.0 259.5,106.7 260.0,106.4 260.5,106.3 261.0,107.1 261.5,107.2 262.0,106.7 262.5,106.9 263.0,106.6 263.5,106.8 264.0,107.2 264.5,106.9 265.0,106.5 265.5,106.4 266.0,106.1 266.5,107.1 267.0,107.3 267.5,107.6 268.0,108.0 268.5,107.7 269.0,108.1 269.5,107.5 270.0,108.3 270.5,108.2 271.0,108.5 271.5,108.5 272.0,108.6 272.5,109.3 273.0,108.9 273.5,109.8 274.0,110.0 274.5,109.1 275.0,108.7 275.5,109.2 276.0,109.1 276.5,109.4 277.0,109.3 277.5,108.7 278.0,109.0 278.5,109.3 279.0,108.7 279.5,108.6 280.0,108.0 280.5,108.4 281.0,108.4 281.5,106.9 282.0,107.8 282.5,108.2 283.0,108.2 283.5,108.5 284.0,108.3 284.5,108.1 285.0,108.4 285.5,108.8 286.0,109.0 286.5,109.8 287.0,109.9 287.5,109.5 288.0,110.3 288.5,109.8 289.0,108.7 289.5,109.5 290.0,109.0 290.5,109.0 291.0,109.7 291.5,108.1 292.0,108.6 292.5,109.7 293.0,109.6 293.5,109.5 294.0,110.6 294.5,110.5 295.0,110.0 295.5,110.5 296.0,111.1 296.5,111.3 297.0,109.6 297.5,110.3 298.0,110.3 298.5,110.0 299.0,110.7 299.5,110.2 300.0,110.5 300.5,111.2 301.0,110.6 301.5,110.5 302.0,110.3 302.5,110.4 303.0,111.1 303.5,110.7 304.0,111.3 304.5,112.1 305.0,111.6 305.5,111.6 306.0,112.1 306.5,112.1 307.0,111.2 307.5,111.1 308.0,111.8 308.5,112.0 309.0,111.9 309.5,112.3 310.0,112.1 310.5,111.8 311.0,112.9 311.5,112.4 312.0,112.3 312.5,112.5 313.0,113.4 313.5,112.9 314.0,112.3 314.5,112.6 315.0,112.4 315.5,112.3 316.0,112.9 316.5,113.2 317.0,113.2 317.5,113.0 318.0,113.5 318.5,112.6 319.0,113.8 319.5,114.0 320.0,114.8 320.5,114.4 321.0,116.2 321.5,115.0 322.0,115.3 322.5,115.8 323.0,115.3 323.5,115.4 324.0,114.9 324.5,115.6 325.0,115.6 325.5,115.7 326.0,115.6 326.5,116.2 327.0,116.5 327.5,116.3 328.0,116.2 328.5,117.0 329.0,115.7 329.5,116.3 330.0,115.8 330.5,116.5 331.0,116.0 331.5,116.8 332.0,117.1 332.5,117.1 333.0,117.4 333.5,116.9" fill="none" stroke="#ff00ff" stroke-width="1.25" stroke-linejoin="round"/>
<polyline points="62.6,213.6 63.4,213.8 64.2,213.7 65.0,213.6 65.8,213.7 66.6,213.6 67.4,213.7 68.2,213.6 69.0,213.6 69.8,213.6 70.6,213.8 71.4,213.8 72.2,213.6 73.0,213.8 73.8,213.8 74.5,213.9 74.8,213.0 75.2,209.3 75.5,203.5 75.9,196.8 76.2,190.1 76.5,184.4 76.9,179.2 77.2,173.9 77.6,168.8 77.9,163.6 78.2,158.7 78.6,154.1 78.9,149.5 79.3,145.4 79.6,141.9 79.9,138.8 80.3,136.2 80.6,133.7 81.0,131.8 81.3,130.0 81.6,128.5 82.0,127.2 82.3,126.0 82.7,124.8 83.0,123.6 83.3,122.6 83.7,121.7 84.0,120.6 84.4,120.1 84.7,118.6 85.0,117.5 85.4,116.4 85.7,115.7 86.1,114.1 86.4,113.5 86.7,112.3 87.1,111.1 87.4,109.8 87.8,109.9 88.1,108.9 88.4,108.3 88.8,107.8 89.1,107.1 89.5,106.8 89.8,105.6 90.1,105.3 90.5,104.8 90.8,104.0 91.2,103.3 91.5,101.9 91.8,101.3 92.2,99.6 92.5,98.4 92.9,98.3 93.2,98.2 93.5,97.0 93.9,96.4 94.2,96.0 94.6,95.6 94.9,94.8 95.2,94.4 95.6,93.0 95.9,93.6 96.3,92.4 96.6,91.0 96.9,91.2 97.3,90.5 97.6,90.7 98.0,89.4 98.3,90.2 98.6,89.2 99.0,88.2 99.3,88.9 99.7,88.0 100.0,87.1 100.5,86.6 101.0,85.1 101.5,85.5 102.0,84.7 102.5,84.3 103.0,84.6 103.5,83.6 104.0,82.9 104.5,82.4 105.0,82.2 105.5,81.8 106.0,80.2 106.5,79.4 107.0,79.8 107.5,79.3 108.0,79.0 108.5,79.5 109.0,77.7 109.5,77.7 110.0,76.5 110.5,76.8 111.0,76.9 111.5,76.9 112.0,75.7 112.5,76.2 113.0,75.8 113.5,75.2 114.0,75.9 114.5,74.6 115.0,73.9 115.5,74.3 116.0,73.3 116.5,74.5 117.0,74.2 117.5,73.6 118.0,73.9 118.5,73.7 119.0,74.3 119.5,73.3 120.0,72.9 120.5,72.1 121.0,72.2 121.5,71.3 122.0,71.6 122.5,71.7 123.0,71.2 123.5,71.1 124.0,72.1 124.5,71.6 125.0,71.6 125.5,71.5 126.0,70.1 126.5,69.9 127.0,71.0 127.5,69.8 128.0,69.2 128.5,69.2 129.0,68.8 129.5,68.3 130.0,68.3 130.5,68.1 131.0,68.0 131.5,68.1 132.0,67.1 132.5,66.9 133.0,67.3 133.5,66.4 134.0,66.7 134.5,66.1 135.0,65.4 135.5,66.3 136.0,65.8 136.5,66.4 137.0,66.7 137.5,66.8 138.0,65.8 138.5,65.9 139.0,65.7 139.5,65.9 140.0,64.5 140.5,65.2 141.0,65.2 141.5,65.0 142.0,64.4 142.5,65.0 143.0,65.0 143.5,64.4 144.0,64.1 144.5,64.1 145.0,64.5 145.5,65.0 146.0,65.0 146.5,64.1 147.0,63.6 147.5,63.3 148.0,63.8 148.5,63.5 149.0,63.6 149.5,63.5 150.0,63.3 150.5,62.9 151.0,62.5 151.5,62.9 152.0,63.5 152.5,63.7 153.0,63.3 153.5,63.0 154.0,63.4 154.5,62.5 155.0,62.8 155.5,62.8 156.0,63.0 156.5,63.0 157.0,63.4 157.5,63.2 158.0,63.7 158.5,63.0 159.0,63.4 159.5,63.9 160.0,63.5 160.5,63.6 161.0,63.6 161.5,62.4 162.0,62.6 162.5,62.1 163.0,63.0 163.5,62.7 164.0,63.4 164.5,64.4 165.0,64.0 165.5,64.2 166.0,64.2 166.5,63.7 167.0,64.2 167.5,63.9 168.0,64.0 168.5,63.6 169.0,63.6 169.5,63.8 170.0,64.0 170.5,63.7 171.0,64.4 171.5,64.6 172.0,64.3 172.5,64.1 173.0,64.4 173.5,64.4 174.0,64.5 174.5,65.3 175.0,64.6 175.5,65.3 176.0,65.4 176.5,65.1 177.0,64.9 177.5,64.5 178.0,64.5 178.5,65.0 179.0,65.4 179.5,64.9 180.0,65.5 180.5,65.6 181.0,65.7 181.5,65.4 182.0,65.5 182.5,65.7 183.0,65.0 183.5,65.4 184.0,64.7 184.5,64.7 185.0,65.2 185.5,64.7 186.0,65.3 186.5,65.1 187.0,64.4 187.5,64.2 188.0,64.1 188.5,64.1 189.0,64.3 189.5,64.6 190.0,64.3 190.5,63.9 191.0,63.5 191.5,63.8 192.0,63.4 192.5,64.4 193.0,64.1 193.5,64.9 194.0,64.0 194.5,64.2 195.0,64.7 195.5,64.7 196.0,64.5 196.5,65.3 197.0,64.6 197.5,64.7 198.0,64.5 198.5,65.5 199.0,65.4 199.5,65.4 200.0,64.7 200.5,65.6 201.0,65.5 201.5,65.9 202.0,66.4 202.5,65.9 203.0,66.4 203.5,66.7 204.0,66.5 204.5,66.5 205.0,66.5 205.5,66.8 206.0,66.5 206.5,67.2 207.0,67.0 207.5,66.6 208.0,67.3 208.5,66.8 209.0,65.8 209.5,67.3 210.0,67.0 210.5,65.7 211.0,65.8 211.5,66.0 212.0,65.9 212.5,65.7 213.0,65.7 213.5,65.7 214.0,65.5 214.5,66.0 215.0,66.2 215.5,66.5 216.0,67.4 216.5,67.1 217.0,68.4 217.5,67.1 218.0,67.8 218.5,68.1 219.0,68.3 219.5,68.3 220.0,68.8 220.5,67.9 221.0,68.3 221.5,68.3 222.0,68.0 222.5,67.7 223.0,68.3 223.5,67.5 224.0,67.7 224.5,67.8 225.0,67.8 225.5,67.7 226.0,67.3 226.5,67.6 227.0,67.8 227.5,68.3 228.0,68.8 228.5,68.0 229.0,68.9 229.5,68.0 230.0,68.5 230.5,68.4 231.0,68.4 231.5,68.1 232.0,69.7 232.5,69.0 233.0,69.1 233.5,69.8 234.0,69.3 234.5,70.1 235.0,70.5 235.5,70.7 236.0,71.0 236.5,71.2 237.0,70.3 237.5,70.8 238.0,70.9 238.5,70.7 239.0,70.9 239.5,70.0 240.0,70.9 240.5,71.0 241.0,70.2 241.5,70.8 242.0,71.5 242.5,71.2 243.0,70.9 243.5,71.2 244.0,72.2 244.5,72.7 245.0,71.6 245.5,72.0 246.0,71.9 246.5,72.3 247.0,72.6 247.5,72.7 248.0,72.7 248.5,73.9 249.0,73.2 249.5,73.3 250.0,74.0 250.5,73.8 251.0,73.7 251.5,74.0 252.0,72.9 252.5,73.3 253.0,73.3 253.5,73.1 254.0,72.9 254.5,73.2 255.0,72.8 255.5,73.6 256.0,73.8 256.5,73.9 257.0,73.4 257.5,73.1 258.0,72.9 258.5,73.2 259.0,73.4 259.5,73.9 260.0,73.6 260.5,73.6 261.0,74.1 261.5,74.3 262.0,74.5 262.5,73.8 263.0,74.1 263.5,74.3 264.0,75.0 264.5,74.7 265.0,74.7 265.5,75.0 266.0,74.4 266.5,75.7 267.0,76.0 267.5,76.1 268.0,77.2 268.5,76.2 269.0,76.4 269.5,77.0 270.0,77.5 270.5,77.4 271.0,76.5 271.5,76.9 272.0,76.7 272.5,77.5 273.0,77.0 273.5,76.5 274.0,76.2 274.5,77.0 275.0,76.7 275.5,77.4 276.0,77.4 276.5,77.2 277.0,77.7 277.5,77.5 278.0,77.4 278.5,78.0 279.0,77.7 279.5,77.5 280.0,77.5 280.5,78.1 281.0,78.2 281.5,78.2 282.0,78.5 282.5,78.4 283.0,78.2 283.5,79.5 284.0,79.0 284.5,78.7 285.0,78.8 285.5,77.8 286.0,78.3 286.5,78.1 287.0,78.5 287.5,77.5 288.0,78.0 288.5,79.1 289.0,79.1 289.5,78.9 290.0,79.8 290.5,78.4 291.0,78.9 291.5,78.6 292.0,79.1 292.5,79.2 293.0,79.5 293.5,80.2 294.0,79.9 294.5,80.9 295.0,81.0 295.5,81.8 296.0,81.5 296.5,81.7 297.0,82.2 297.5,82.6 298.0,81.5 298.5,82.3 299.0,82.6 299.5,82.0 300.0,82.5 300.5,83.4 301.0,82.9 301.5,82.9 302.0,83.8 302.5,82.8 303.0,82.8 303.5,82.2 304.0,82.6 304.5,82.5 305.0,83.7 305.5,83.8 306.0,83.1 306.5,84.4 307.0,84.1 307.5,83.9 308.0,84.3 308.5,84.1 309.0,83.7 309.5,83.5 310.0,83.9 310.5,84.3 311.0,84.3 311.5,84.5 312.0,85.6 312.5,85.2 313.0,86.1 313.5,85.6 314.0,85.8 314.5,85.3 315.0,85.6 315.5,85.1 316.0,84.7 316.5,85.4 317.0,85.5 317.5,86.0 318.0,86.0 318.5,85.7 319.0,86.0 319.5,85.4 320.0,86.1 320.5,87.1 321.0,87.1 321.5,86.5 322.0,85.9 322.5,85.7 323.0,85.7 323.5,85.0 324.0,85.8 324.5,87.1 325.0,87.5 325.5,87.4 326.0,87.1 326.5,86.8 327.0,86.5 327.5,86.2 328.0,85.7 328.5,86.6 329.0,86.5 329.5,86.7 330.0,87.4 330.5,87.1 331.0,86.7 331.5,87.5 332.0,86.9 332.5,87.9 333.0,87.5 333.5,87.2" fill="none" stroke="#ffff00" stroke-width="1.25" stroke-linejoin="round"/>
<polyline points="62.6,214.2 63.4,214.1 64.2,214.2 65.0,214.0 65.8,214.1 66.6,213.9 67.4,214.0 68.2,213.8 69.0,214.0 69.8,213.9 70.6,213.9 71.4,213.9 72.2,213.8 73.0,213.8 73.8,213.9 74.5,213.9 74.8,213.8 75.2,212.5 75.5,208.9 75.9,205.5 76.2,201.4 76.5,197.0 76.9,192.5 77.2,188.2 77.6,184.2 77.9,180.5 78.2,176.8 78.6,173.3 78.9,169.9 79.3,166.6 79.6,163.1 79.9,159.8 80.3,156.5 80.6,153.8 81.0,151.3 81.3,149.5 81.6,147.9 82.0,146.7 82.3,145.5 82.7,144.4 83.0,143.3 83.3,142.1 83.7,141.3 84.0,140.6 84.4,139.8 84.7,138.7 85.0,137.6 85.4,136.5 85.7,135.6 86.1,134.3 86.4,133.5 86.7,132.7 87.1,131.7 87.4,130.5 87.8,129.6 88.1,128.3 88.4,127.6 88.8,126.8 89.1,125.1 89.5,124.6 89.8,123.5 90.1,122.0 90.5,121.5 90.8,119.9 91.2,119.1 91.5,118.4 91.8,117.6 92.2,116.6 92.5,115.4 92.9,115.7 93.2,114.2 93.5,113.4 93.9,112.7 94.2,111.6 94.6,110.5 94.9,109.4 95.2,108.3 95.6,109.1 95.9,107.9 96.3,107.2 96.6,107.0 96.9,106.0 97.3,106.7 97.6,105.4 98.0,105.2 98.3,104.8 98.6,104.1 99.0,103.7 99.3,102.7 99.7,102.5 100.0,101.6 100.5,100.9 101.0,99.7 101.5,99.9 102.0,99.4 102.5,98.7 103.0,97.7 103.5,98.1 104.0,97.3 104.5,95.9 105.0,94.3 105.5,94.0 106.0,93.4 106.5,91.3 107.0,91.2 107.5,89.3 108.0,88.8 108.5,88.2 109.0,86.5 109.5,85.8 110.0,84.8 110.5,84.3 111.0,84.5 111.5,83.4 112.0,81.9 112.5,81.0 113.0,80.4 113.5,80.8 114.0,79.6 114.5,79.5 115.0,78.5 115.5,77.7 116.0,78.1 116.5,77.0 117.0,76.1 117.5,75.6 118.0,75.0 118.5,74.4 119.0,73.3 119.5,73.6 120.0,72.6 120.5,72.4 121.0,71.6 121.5,71.6 122.0,71.1 122.5,70.8 123.0,70.0 123.5,69.3 124.0,68.7 124.5,68.4 125.0,68.4 125.5,68.3 126.0,68.0 126.5,67.4 127.0,68.0 127.5,67.1 128.0,65.7 128.5,65.6 129.0,65.1 129.5,65.1 130.0,64.7 130.5,63.3 131.0,63.4 131.5,62.5 132.0,62.5 132.5,62.1 133.0,61.5 133.5,61.5 134.0,61.1 134.5,60.7 135.0,60.0 135.5,60.0 136.0,59.4 136.5,59.0 137.0,58.8 137.5,58.4 138.0,57.7 138.5,57.6 139.0,58.1 139.5,57.3 140.0,57.5 140.5,56.0 141.0,55.5 141.5,55.7 142.0,55.5 142.5,54.6 143.0,54.6 143.5,54.3 144.0,54.0 144.5,53.2 145.0,52.9 145.5,52.0 146.0,52.3 146.5,52.0 147.0,52.0 147.5,50.6 148.0,50.5 148.5,50.1 149.0,50.4 149.5,48.7 150.0,49.1 150.5,50.4 151.0,50.0 151.5,49.3 152.0,49.8 152.5,49.8 153.0,49.3 153.5,48.6 154.0,48.0 154.5,48.2 155.0,47.5 155.5,47.6 156.0,47.3 156.5,47.0 157.0,47.6 157.5,46.6 158.0,46.6 158.5,46.0 159.0,46.1 159.5,46.1 160.0,46.0 160.5,46.1 161.0,46.2 161.5,46.0 162.0,45.7 162.5,45.0 163.0,45.5 163.5,44.9 164.0,45.0 164.5,43.4 165.0,43.9 165.5,42.6 166.0,42.9 166.5,42.2 167.0,42.8 167.5,42.4 168.0,41.8 168.5,42.4 169.0,43.0 169.5,43.4 170.0,42.6 170.5,42.9 171.0,42.9 171.5,42.9 172.0,42.8 172.5,42.2 173.0,41.8 173.5,42.5 174.0,42.2 174.5,42.7 175.0,42.1 175.5,42.4 176.0,41.5 176.5,41.6 177.0,41.2 177.5,40.9 178.0,39.9 178.5,39.8 179.0,39.1 179.5,39.0 180.0,38.9 180.5,39.6 181.0,38.3 181.5,38.5 182.0,38.1 182.5,38.2 183.0,37.4 183.5,37.1 184.0,36.4 184.5,36.9 185.0,36.4 185.5,35.1 186.0,35.8 186.5,35.6 187.0,34.6 187.5,35.0 188.0,35.1 188.5,34.9 189.0,35.2 189.5,34.5 190.0,35.3 190.5,34.9 191.0,34.2 191.5,33.5 192.0,33.3 192.5,32.8 193.0,33.2 193.5,32.7 194.0,33.1 194.5,32.3 195.0,33.1 195.5,32.5 196.0,32.8 196.5,32.6 197.0,33.2 197.5,32.7 198.0,32.7 198.5,33.0 199.0,32.5 199.5,32.7 200.0,32.6 200.5,31.9 201.0,31.3 201.5,31.4 202.0,31.5 202.5,31.7 203.0,31.7 203.5,31.0 204.0,31.2 204.5,31.3 205.0,30.3 205.5,30.3 206.0,29.8 206.5,30.1 207.0,30.8 207.5,30.1 208.0,29.4 208.5,29.8 209.0,29.8 209.5,30.3 210.0,29.4 210.5,29.4 211.0,29.3 211.5,28.3 212.0,29.0 212.5,27.8 213.0,28.2 213.5,28.0 214.0,28.2 214.5,28.7 215.0,28.5 215.5,28.4 216.0,28.1 216.5,26.9 217.0,27.7 217.5,26.7 218.0,26.9 218.5,26.7 219.0,26.4 219.5,26.9 220.0,26.7 220.5,27.8 221.0,27.3 221.5,27.3 222.0,26.9 222.5,26.9 223.0,26.5 223.5,27.1 224.0,25.6 224.5,25.9 225.0,25.7 225.5,25.8 226.0,26.3 226.5,26.1 227.0,26.8 227.5,26.8 228.0,26.4 228.5,26.4 229.0,25.3 229.5,24.6 230.0,25.0 230.5,25.4 231.0,26.8 231.5,26.0 232.0,26.6 232.5,26.4 233.0,26.9 233.5,26.1 234.0,26.2 234.5,25.5 235.0,24.8 235.5,24.3 236.0,24.1 236.5,24.9 237.0,24.4 237.5,24.0 238.0,23.9 238.5,23.5 239.0,23.6 239.5,23.5 240.0,23.8 240.5,24.2 241.0,23.5 241.5,24.3 242.0,24.6 242.5,23.6 243.0,24.0 243.5,24.3 244.0,24.6 244.5,24.2 245.0,23.8 245.5,24.1 246.0,24.4 246.5,24.1 247.0,24.5 247.5,23.7 248.0,23.0 248.5,23.0 249.0,23.2 249.5,23.3 250.0,23.8 250.5,23.7 251.0,24.2 251.5,23.8 252.0,23.9 252.5,22.9 253.0,22.8 253.5,22.9 254.0,22.5 254.5,22.9 255.0,23.0 255.5,22.8 256.0,23.7 256.5,23.3 257.0,22.0 257.5,22.1 258.0,22.0 258.5,22.1 259.0,21.9 259.5,21.5 260.0,22.3 260.5,21.9 261.0,22.6 261.5,22.5 262.0,23.2 262.5,23.4 263.0,23.4 263.5,22.9 264.0,23.6 264.5,23.5 265.0,22.8 265.5,22.7 266.0,22.4 266.5,22.5 267.0,22.5 267.5,21.7 268.0,22.3 268.5,21.9 269.0,21.6 269.5,22.3 270.0,21.7 270.5,21.4 271.0,22.1 271.5,22.4 272.0,22.0 272.5,22.9 273.0,23.0 273.5,22.5 274.0,23.5 274.5,22.8 275.0,22.9 275.5,21.9 276.0,23.1 276.5,22.5 277.0,22.7 277.5,21.8 278.0,22.9 278.5,23.1 279.0,23.3 279.5,21.5 280.0,22.9 280.5,23.1 281.0,22.0 281.5,23.1 282.0,23.3 282.5,23.7 283.0,22.6 283.5,22.7 284.0,22.4 284.5,22.6 285.0,22.3 285.5,22.8 286.0,22.8 286.5,21.8 287.0,22.7 287.5,22.1 288.0,22.3 288.5,22.8 289.0,22.4 289.5,22.8 290.0,23.2 290.5,23.3 291.0,22.8 291.5,22.3 292.0,22.7 292.5,22.4 293.0,22.1 293.5,21.6 294.0,21.9 294.5,21.5 295.0,20.9 295.5,21.5 296.0,21.7 296.5,21.8 297.0,21.2 297.5,21.2 298.0,21.4 298.5,21.1 299.0,21.3 299.5,22.0 300.0,22.2 300.5,23.0 301.0,22.6 301.5,23.2 302.0,23.0 302.5,23.5 303.0,22.3 303.5,22.0 304.0,22.1 304.5,20.9 305.0,20.4 305.5,20.5 306.0,20.5 306.5,20.0 307.0,20.6 307.5,20.1 308.0,19.9 308.5,19.6 309.0,19.4 309.5,19.9 310.0,19.8 310.5,19.5 311.0,19.4 311.5,19.7 312.0,19.6 312.5,19.7 313.0,19.0 313.5,19.1 314.0,20.1 314.5,19.6 315.0,20.4 315.5,20.2 316.0,19.8 316.5,19.5 317.0,20.3 317.5,20.0 318.0,20.4 318.5,20.5 319.0,22.1 319.5,22.1 320.0,22.2 320.5,22.4 321.0,22.2 321.5,22.0 322.0,22.1 322.5,22.0 323.0,21.3 323.5,22.6 324.0,22.5 324.5,22.3 325.0,22.9 325.5,21.7 326.0,21.1 326.5,22.7 327.0,22.4 327.5,21.7 328.0,22.2 328.5,22.5 329.0,21.5 329.5,21.9 330.0,22.2 330.5,21.7 331.0,21.0 331.5,21.0 332.0,20.1 332.5,20.1 333.0,19.6 333.5,19.0" fill="none" stroke="#808000" stroke-width="1.25" stroke-linejoin="round"/>
<polyline points="63,214.4 65,214.5 67,214.3" fill="none" stroke="#ffff00" stroke-width="1.1"/>
<polyline points="62.6,213.8 64.5,213.6 66.2,213.9" fill="none" stroke="#00ff00" stroke-width="1.1"/>
<polyline points="66.2,214.0 68,214.2 70,214.0" fill="none" stroke="#0000ff" stroke-width="1.1"/>
<polyline points="70,213.9 71.5,213.7 72.8,214.0" fill="none" stroke="#00ff00" stroke-width="1.1"/>
</g>
<g id="bottom-curves">
<polyline points="62.6,429.2 63.4,429.1 64.2,429.2 65.0,429.0 65.8,429.1 66.6,428.9 67.4,429.0 68.2,428.8 69.0,429.0 69.8,428.9 70.6,428.9 71.4,428.9 72.2,428.8 73.0,428.8 73.8,428.9 74.5,428.9 74.8,428.8 75.2,427.5 75.5,423.9 75.9,420.5 76.2,416.4 76.5,412.0 76.9,407.5 77.2,403.2 77.6,399.2 77.9,395.5 78.2,391.8 78.6,388.3 78.9,384.9 79.3,381.6 79.6,378.1 79.9,374.8 80.3,371.5 80.6,368.8 81.0,366.3 81.3,364.5 81.6,362.9 82.0,361.7 82.3,360.5 82.7,359.4 83.0,358.3 83.3,357.1 83.7,356.3 84.0,355.6 84.4,354.8 84.7,353.7 85.0,352.6 85.4,351.5 85.7,350.6 86.1,349.3 86.4,348.5 86.7,347.7 87.1,346.7 87.4,345.5 87.8,344.6 88.1,343.3 88.4,342.6 88.8,341.8 89.1,340.1 89.5,339.6 89.8,338.5 90.1,337.0 90.5,336.5 90.8,334.9 91.2,334.1 91.5,333.4 91.8,332.6 92.2,331.6 92.5,330.4 92.9,330.7 93.2,329.2 93.5,328.4 93.9,327.7 94.2,326.6 94.6,325.5 94.9,324.4 95.2,323.3 95.6,324.1 95.9,322.9 96.3,322.2 96.6,322.0 96.9,321.0 97.3,321.7 97.6,320.4 98.0,320.2 98.3,319.8 98.6,319.1 99.0,318.7 99.3,317.7 99.7,317.5 100.0,316.6 100.5,315.9 101.0,314.7 101.5,314.9 102.0,314.4 102.5,313.7 103.0,312.7 103.5,313.1 104.0,312.3 104.5,310.9 105.0,309.3 105.5,309.0 106.0,308.4 106.5,306.3 107.0,306.2 107.5,304.3 108.0,303.8 108.5,303.2 109.0,301.5 109.5,300.8 110.0,299.8 110.5,299.3 111.0,299.5 111.5,298.4 112.0,296.9 112.5,296.0 113.0,295.4 113.5,295.8 114.0,294.6 114.5,294.5 115.0,293.5 115.5,292.7 116.0,293.1 116.5,292.0 117.0,291.1 117.5,290.6 118.0,290.0 118.5,289.4 119.0,288.3 119.5,288.6 120.0,287.6 120.5,287.4 121.0,286.6 121.5,286.6 122.0,286.1 122.5,285.8 123.0,285.0 123.5,284.3 124.0,283.7 124.5,283.4 125.0,283.4 125.5,283.3 126.0,283.0 126.5,282.4 127.0,283.0 127.5,282.1 128.0,280.7 128.5,280.6 129.0,280.1 129.5,280.1 130.0,279.7 130.5,278.3 131.0,278.4 131.5,277.5 132.0,277.5 132.5,277.1 133.0,276.5 133.5,276.5 134.0,276.1 134.5,275.7 135.0,275.0 135.5,275.0 136.0,274.4 136.5,274.0 137.0,273.8 137.5,273.4 138.0,272.7 138.5,272.6 139.0,273.1 139.5,272.3 140.0,272.5 140.5,271.0 141.0,270.5 141.5,270.7 142.0,270.5 142.5,269.6 143.0,269.6 143.5,269.3 144.0,269.0 144.5,268.2 145.0,267.9 145.5,267.0 146.0,267.3 146.5,267.0 147.0,267.0 147.5,265.6 148.0,265.5 148.5,265.1 149.0,265.4 149.5,263.7 150.0,264.1 150.5,265.4 151.0,265.0 151.5,264.3 152.0,264.8 152.5,264.8 153.0,264.3 153.5,263.6 154.0,263.0 154.5,263.2 155.0,262.5 155.5,262.6 156.0,262.3 156.5,262.0 157.0,262.6 157.5,261.6 158.0,261.6 158.5,261.0 159.0,261.1 159.5,261.1 160.0,261.0 160.5,261.1 161.0,261.2 161.5,261.0 162.0,260.7 162.5,260.0 163.0,260.5 163.5,259.9 164.0,260.0 164.5,258.4 165.0,258.9 165.5,257.6 166.0,257.9 166.5,257.2 167.0,257.8 167.5,257.4 168.0,256.8 168.5,257.4 169.0,258.0 169.5,258.4 170.0,257.6 170.5,257.9 171.0,257.9 171.5,257.9 172.0,257.8 172.5,257.2 173.0,256.8 173.5,257.5 174.0,257.2 174.5,257.7 175.0,257.1 175.5,257.4 176.0,256.5 176.5,256.6 177.0,256.2 177.5,255.9 178.0,254.9 178.5,254.8 179.0,254.1 179.5,254.0 180.0,253.9 180.5,254.6 181.0,253.3 181.5,253.5 182.0,253.1 182.5,253.2 183.0,252.4 183.5,252.1 184.0,251.4 184.5,251.9 185.0,251.4 185.5,250.1 186.0,250.8 186.5,250.6 187.0,249.6 187.5,250.0 188.0,250.1 188.5,249.9 189.0,250.2 189.5,249.5 190.0,250.3 190.5,249.9 191.0,249.2 191.5,248.5 192.0,248.3 192.5,247.8 193.0,248.2 193.5,247.7 194.0,248.1 194.5,247.3 195.0,248.1 195.5,247.5 196.0,247.8 196.5,247.6 197.0,248.2 197.5,247.7 198.0,247.7 198.5,248.0 199.0,247.5 199.5,247.7 200.0,247.6 200.5,246.9 201.0,246.3 201.5,246.4 202.0,246.5 202.5,246.7 203.0,246.7 203.5,246.0 204.0,246.2 204.5,246.3 205.0,245.3 205.5,245.3 206.0,244.8 206.5,245.1 207.0,245.8 207.5,245.1 208.0,244.4 208.5,244.8 209.0,244.8 209.5,245.3 210.0,244.4 210.5,244.4 211.0,244.3 211.5,243.3 212.0,244.0 212.5,242.8 213.0,243.2 213.5,243.0 214.0,243.2 214.5,243.7 215.0,243.5 215.5,243.4 216.0,243.1 216.5,241.9 217.0,242.7 217.5,241.7 218.0,241.9 218.5,241.7 219.0,241.4 219.5,241.9 220.0,241.7 220.5,242.8 221.0,242.3 221.5,242.3 222.0,241.9 222.5,241.9 223.0,241.5 223.5,242.1 224.0,240.6 224.5,240.9 225.0,240.7 225.5,240.8 226.0,241.3 226.5,241.1 227.0,241.8 227.5,241.8 228.0,241.4 228.5,241.4 229.0,240.3 229.5,239.6 230.0,240.0 230.5,240.4 231.0,241.8 231.5,241.0 232.0,241.6 232.5,241.4 233.0,241.9 233.5,241.1 234.0,241.2 234.5,240.5 235.0,239.8 235.5,239.3 236.0,239.1 236.5,239.9 237.0,239.4 237.5,239.0 238.0,238.9 238.5,238.5 239.0,238.6 239.5,238.5 240.0,238.8 240.5,239.2 241.0,238.5 241.5,239.3 242.0,239.6 242.5,238.6 243.0,239.0 243.5,239.3 244.0,239.6 244.5,239.2 245.0,238.8 245.5,239.1 246.0,239.4 246.5,239.1 247.0,239.5 247.5,238.7 248.0,238.0 248.5,238.0 249.0,238.2 249.5,238.3 250.0,238.8 250.5,238.7 251.0,239.2 251.5,238.8 252.0,238.9 252.5,237.9 253.0,237.8 253.5,237.9 254.0,237.5 254.5,237.9 255.0,238.0 255.5,237.8 256.0,238.7 256.5,238.3 257.0,237.0 257.5,237.1 258.0,237.0 258.5,237.1 259.0,236.9 259.5,236.5 260.0,237.3 260.5,236.9 261.0,237.6 261.5,237.5 262.0,238.2 262.5,238.4 263.0,238.4 263.5,237.9 264.0,238.6 264.5,238.5 265.0,237.8 265.5,237.7 266.0,237.4 266.5,237.5 267.0,237.5 267.5,236.7 268.0,237.3 268.5,236.9 269.0,236.6 269.5,237.3 270.0,236.7 270.5,236.4 271.0,237.1 271.5,237.4 272.0,237.0 272.5,237.9 273.0,238.0 273.5,237.5 274.0,238.5 274.5,237.8 275.0,237.9 275.5,236.9 276.0,238.1 276.5,237.5 277.0,237.7 277.5,236.8 278.0,237.9 278.5,238.1 279.0,238.3 279.5,236.5 280.0,237.9 280.5,238.1 281.0,237.0 281.5,238.1 282.0,238.3 282.5,238.7 283.0,237.6 283.5,237.7 284.0,237.4 284.5,237.6 285.0,237.3 285.5,237.8 286.0,237.8 286.5,236.8 287.0,237.7 287.5,237.1 288.0,237.3 288.5,237.8 289.0,237.4 289.5,237.8 290.0,238.2 290.5,238.3 291.0,237.8 291.5,237.3 292.0,237.7 292.5,237.4 293.0,237.1 293.5,236.6 294.0,236.9 294.5,236.5 295.0,235.9 295.5,236.5 296.0,236.7 296.5,236.8 297.0,236.2 297.5,236.2 298.0,236.4 298.5,236.1 299.0,236.3 299.5,237.0 300.0,237.2 300.5,238.0 301.0,237.6 301.5,238.2 302.0,238.0 302.5,238.5 303.0,237.3 303.5,237.0 304.0,237.1 304.5,235.9 305.0,235.4 305.5,235.5 306.0,235.5 306.5,235.0 307.0,235.6 307.5,235.1 308.0,234.9 308.5,234.6 309.0,234.4 309.5,234.9 310.0,234.8 310.5,234.5 311.0,234.4 311.5,234.7 312.0,234.6 312.5,234.7 313.0,234.0 313.5,234.1 314.0,235.1 314.5,234.6 315.0,235.4 315.5,235.2 316.0,234.8 316.5,234.5 317.0,235.3 317.5,235.0 318.0,235.4 318.5,235.5 319.0,237.1 319.5,237.1 320.0,237.2 320.5,237.4 321.0,237.2 321.5,237.0 322.0,237.1 322.5,237.0 323.0,236.3 323.5,237.6 324.0,237.5 324.5,237.3 325.0,237.9 325.5,236.7 326.0,236.1 326.5,237.7 327.0,237.4 327.5,236.7 328.0,237.2 328.5,237.5 329.0,236.5 329.5,236.9 330.0,237.2 330.5,236.7 331.0,236.0 331.5,236.0 332.0,235.1 332.5,235.1 333.0,234.6 333.5,234.0" fill="none" stroke="#000000" stroke-width="1.25" stroke-linejoin="round"/>
<polyline points="62.6,428.2 63.4,428.3 64.2,428.2 65.0,428.3 65.8,428.3 66.6,428.2 67.4,428.2 68.2,428.2 69.0,428.2 69.8,428.4 70.6,428.1 71.4,428.2 72.2,428.2 73.0,428.2 73.8,428.2 74.5,428.2 74.8,428.3 75.2,428.2 75.5,425.6 75.9,421.0 76.2,416.2 76.5,412.3 76.9,407.8 77.2,403.7 77.6,400.8 77.9,398.9 78.2,397.4 78.6,396.1 78.9,394.8 79.3,393.7 79.6,392.6 79.9,391.7 80.3,390.9 80.6,390.0 81.0,389.1 81.3,388.2 81.6,387.1 82.0,386.1 82.3,385.5 82.7,384.6 83.0,383.8 83.3,383.2 83.7,382.1 84.0,381.4 84.4,380.5 84.7,380.1 85.0,379.3 85.4,378.6 85.7,378.0 86.1,376.7 86.4,376.0 86.7,375.0 87.1,374.4 87.4,372.8 87.8,372.5 88.1,372.4 88.4,371.1 88.8,370.3 89.1,370.0 89.5,369.3 89.8,367.7 90.1,366.5 90.5,365.7 90.8,365.2 91.2,364.7 91.5,364.2 91.8,363.9 92.2,363.1 92.5,362.6 92.9,361.9 93.2,361.0 93.5,361.3 93.9,360.7 94.2,360.0 94.6,359.5 94.9,359.0 95.2,358.3 95.6,357.9 95.9,357.9 96.3,357.6 96.6,356.6 96.9,356.1 97.3,355.1 97.6,355.0 98.0,354.9 98.3,354.6 98.6,353.6 99.0,352.7 99.3,351.7 99.7,351.3 100.0,350.5 100.5,350.4 101.0,350.0 101.5,349.2 102.0,349.1 102.5,348.3 103.0,347.9 103.5,346.8 104.0,346.4 104.5,346.2 105.0,345.2 105.5,345.0 106.0,344.0 106.5,343.5 107.0,342.4 107.5,342.6 108.0,341.9 108.5,342.0 109.0,340.7 109.5,340.4 110.0,340.0 110.5,339.4 111.0,338.2 111.5,338.4 112.0,339.2 112.5,338.1 113.0,337.3 113.5,335.7 114.0,336.0 114.5,336.4 115.0,336.1 115.5,336.0 116.0,335.9 116.5,335.1 117.0,334.7 117.5,333.0 118.0,333.9 118.5,332.3 119.0,331.6 119.5,331.8 120.0,331.0 120.5,330.7 121.0,329.7 121.5,329.7 122.0,329.6 122.5,328.6 123.0,328.7 123.5,328.4 124.0,328.1 124.5,327.6 125.0,327.0 125.5,327.1 126.0,326.5 126.5,326.3 127.0,325.2 127.5,324.2 128.0,323.2 128.5,323.1 129.0,322.5 129.5,323.2 130.0,323.3 130.5,323.0 131.0,322.0 131.5,321.8 132.0,322.2 132.5,321.8 133.0,322.4 133.5,321.6 134.0,320.9 134.5,320.6 135.0,320.5 135.5,319.2 136.0,319.2 136.5,317.9 137.0,317.6 137.5,316.9 138.0,316.8 138.5,316.4 139.0,316.4 139.5,315.9 140.0,315.0 140.5,314.5 141.0,314.4 141.5,314.3 142.0,314.1 142.5,313.7 143.0,314.0 143.5,313.5 144.0,312.4 144.5,311.8 145.0,311.5 145.5,311.3 146.0,311.0 146.5,310.2 147.0,310.5 147.5,309.8 148.0,310.3 148.5,310.3 149.0,309.6 149.5,310.1 150.0,310.0 150.5,309.9 151.0,310.7 151.5,310.0 152.0,309.4 152.5,308.6 153.0,308.6 153.5,308.1 154.0,308.3 154.5,307.5 155.0,307.5 155.5,307.0 156.0,306.3 156.5,307.1 157.0,306.3 157.5,305.1 158.0,304.1 158.5,303.7 159.0,303.2 159.5,302.9 160.0,302.4 160.5,302.6 161.0,302.9 161.5,302.8 162.0,301.7 162.5,302.2 163.0,301.9 163.5,302.3 164.0,302.9 164.5,302.9 165.0,303.5 165.5,303.4 166.0,302.8 166.5,302.2 167.0,302.7 167.5,302.4 168.0,301.6 168.5,301.1 169.0,301.1 169.5,300.8 170.0,299.8 170.5,300.4 171.0,299.5 171.5,300.0 172.0,299.5 172.5,299.7 173.0,299.3 173.5,299.2 174.0,299.2 174.5,298.2 175.0,298.1 175.5,298.2 176.0,297.4 176.5,298.1 177.0,296.6 177.5,297.9 178.0,296.5 178.5,297.1 179.0,297.3 179.5,296.9 180.0,296.0 180.5,296.2 181.0,296.1 181.5,295.8 182.0,295.5 182.5,295.1 183.0,294.9 183.5,293.7 184.0,294.1 184.5,292.8 185.0,293.3 185.5,292.6 186.0,292.1 186.5,293.0 187.0,292.7 187.5,293.3 188.0,292.4 188.5,292.4 189.0,292.4 189.5,291.8 190.0,291.8 190.5,291.1 191.0,290.9 191.5,290.3 192.0,291.1 192.5,290.4 193.0,290.2 193.5,291.0 194.0,290.9 194.5,290.6 195.0,290.3 195.5,289.6 196.0,289.3 196.5,288.3 197.0,288.5 197.5,288.6 198.0,289.1 198.5,289.4 199.0,288.8 199.5,288.7 200.0,289.2 200.5,288.3 201.0,288.1 201.5,287.5 202.0,286.5 202.5,287.1 203.0,287.1 203.5,286.5 204.0,286.4 204.5,286.1 205.0,287.0 205.5,287.2 206.0,286.6 206.5,286.9 207.0,285.8 207.5,287.0 208.0,287.4 208.5,287.2 209.0,286.2 209.5,286.8 210.0,286.2 210.5,286.5 211.0,285.6 211.5,285.5 212.0,284.9 212.5,285.3 213.0,285.2 213.5,285.8 214.0,285.7 214.5,285.5 215.0,285.2 215.5,284.9 216.0,284.9 216.5,285.1 217.0,284.5 217.5,284.2 218.0,283.7 218.5,283.3 219.0,283.0 219.5,282.6 220.0,283.7 220.5,283.7 221.0,283.0 221.5,283.9 222.0,282.5 222.5,283.1 223.0,282.5 223.5,282.2 224.0,282.1 224.5,281.8 225.0,281.3 225.5,280.9 226.0,280.7 226.5,281.2 227.0,281.5 227.5,281.1 228.0,280.7 228.5,281.2 229.0,281.7 229.5,282.3 230.0,281.3 230.5,281.7 231.0,281.3 231.5,280.7 232.0,280.5 232.5,281.3 233.0,281.0 233.5,281.1 234.0,281.4 234.5,281.9 235.0,281.4 235.5,281.6 236.0,280.5 236.5,279.9 237.0,280.0 237.5,279.8 238.0,280.3 238.5,281.1 239.0,281.3 239.5,280.6 240.0,280.0 240.5,279.1 241.0,278.7 241.5,279.1 242.0,279.0 242.5,278.6 243.0,278.5 243.5,279.0 244.0,278.4 244.5,277.7 245.0,277.4 245.5,277.6 246.0,277.4 246.5,277.6 247.0,277.2 247.5,277.3 248.0,277.2 248.5,277.1 249.0,277.9 249.5,277.9 250.0,277.1 250.5,277.1 251.0,276.7 251.5,276.4 252.0,275.9 252.5,277.2 253.0,277.4 253.5,276.6 254.0,277.4 254.5,276.3 255.0,275.9 255.5,276.3 256.0,276.0 256.5,276.6 257.0,276.0 257.5,277.1 258.0,277.0 258.5,276.4 259.0,277.0 259.5,275.8 260.0,276.1 260.5,276.0 261.0,275.9 261.5,275.6 262.0,276.1 262.5,276.0 263.0,276.1 263.5,276.6 264.0,276.7 264.5,276.7 265.0,275.9 265.5,275.9 266.0,276.0 266.5,276.0 267.0,275.0 267.5,275.4 268.0,276.3 268.5,275.2 269.0,275.4 269.5,275.3 270.0,275.6 270.5,275.3 271.0,275.4 271.5,275.2 272.0,276.2 272.5,275.7 273.0,275.0 273.5,274.7 274.0,274.5 274.5,273.3 275.0,273.1 275.5,273.3 276.0,273.2 276.5,272.2 277.0,273.0 277.5,273.7 278.0,273.2 278.5,273.8 279.0,272.4 279.5,273.4 280.0,273.8 280.5,273.7 281.0,273.0 281.5,273.1 282.0,273.8 282.5,273.3 283.0,273.6 283.5,273.0 284.0,273.8 284.5,273.7 285.0,274.3 285.5,273.7 286.0,273.2 286.5,273.2 287.0,272.6 287.5,273.0 288.0,272.9 288.5,273.1 289.0,273.1 289.5,271.9 290.0,272.7 290.5,272.8 291.0,272.0 291.5,272.9 292.0,271.6 292.5,272.8 293.0,272.3 293.5,272.7 294.0,272.5 294.5,272.8 295.0,272.0 295.5,272.3 296.0,272.2 296.5,273.5 297.0,273.3 297.5,274.0 298.0,274.0 298.5,273.0 299.0,273.5 299.5,273.2 300.0,273.1 300.5,273.3 301.0,273.2 301.5,273.1 302.0,273.3 302.5,272.4 303.0,272.3 303.5,272.5 304.0,273.0 304.5,272.3 305.0,273.0 305.5,271.0 306.0,271.8 306.5,271.9 307.0,272.1 307.5,272.4 308.0,271.6 308.5,271.1 309.0,271.6 309.5,271.8 310.0,270.2 310.5,271.5 311.0,271.5 311.5,271.1 312.0,271.4 312.5,271.7 313.0,271.7 313.5,271.5 314.0,271.1 314.5,271.4 315.0,270.7 315.5,270.5 316.0,269.9 316.5,270.1 317.0,270.4 317.5,270.4 318.0,270.6 318.5,269.6 319.0,270.3 319.5,270.1 320.0,269.7 320.5,269.9 321.0,269.1 321.5,270.4 322.0,270.4 322.5,269.9 323.0,270.9 323.5,270.1 324.0,270.1 324.5,269.8 325.0,270.2 325.5,270.5 326.0,270.8 326.5,271.4 327.0,271.5 327.5,270.2 328.0,270.8 328.5,270.2 329.0,269.8 329.5,270.7 330.0,270.6 330.5,269.9 331.0,269.8 331.5,270.5 332.0,269.8 332.5,269.7 333.0,268.9 333.5,269.9" fill="none" stroke="#ff0000" stroke-width="1.25" stroke-linejoin="round"/>
<polyline points="62.6,428.3 63.4,428.4 64.2,428.3 65.0,428.3 65.8,428.4 66.6,428.4 67.4,428.3 68.2,428.3 69.0,428.4 69.8,428.4 70.6,428.4 71.4,428.3 72.2,428.2 73.0,428.3 73.8,428.5 74.5,428.2 74.8,428.3 75.2,428.3 75.5,427.7 75.9,426.5 76.2,425.3 76.5,424.2 76.9,422.9 77.2,421.6 77.6,420.2 77.9,419.0 78.2,417.8 78.6,416.4 78.9,415.3 79.3,414.1 79.6,413.0 79.9,411.9 80.3,410.9 80.6,410.1 81.0,409.4 81.3,408.7 81.6,407.8 82.0,407.3 82.3,406.4 82.7,406.1 83.0,405.3 83.3,404.8 83.7,404.0 84.0,403.8 84.4,403.4 84.7,402.6 85.0,402.4 85.4,402.1 85.7,401.8 86.1,401.9 86.4,401.8 86.7,400.7 87.1,400.7 87.4,399.9 87.8,399.9 88.1,398.6 88.4,398.8 88.8,399.0 89.1,398.1 89.5,398.2 89.8,397.3 90.1,397.6 90.5,397.2 90.8,396.5 91.2,396.0 91.5,395.8 91.8,395.8 92.2,394.9 92.5,394.2 92.9,395.2 93.2,393.0 93.5,393.2 93.9,393.2 94.2,392.5 94.6,392.7 94.9,392.3 95.2,391.5 95.6,391.9 95.9,391.0 96.3,391.0 96.6,391.7 96.9,390.9 97.3,391.8 97.6,392.0 98.0,391.5 98.3,390.9 98.6,390.2 99.0,389.6 99.3,389.9 99.7,389.8 100.0,389.1 100.5,388.5 101.0,388.6 101.5,387.3 102.0,387.3 102.5,386.4 103.0,385.6 103.5,386.6 104.0,386.0 104.5,385.6 105.0,384.5 105.5,384.6 106.0,384.4 106.5,383.7 107.0,384.4 107.5,382.6 108.0,383.2 108.5,381.8 109.0,381.6 109.5,381.6 110.0,382.2 110.5,381.6 111.0,381.5 111.5,381.4 112.0,381.3 112.5,381.5 113.0,381.3 113.5,381.3 114.0,381.1 114.5,380.2 115.0,380.8 115.5,381.3 116.0,380.3 116.5,380.0 117.0,379.3 117.5,379.1 118.0,379.2 118.5,378.6 119.0,378.8 119.5,377.9 120.0,378.4 120.5,377.6 121.0,378.4 121.5,378.5 122.0,377.4 122.5,378.0 123.0,377.2 123.5,377.4 124.0,376.3 124.5,376.2 125.0,376.2 125.5,376.8 126.0,375.4 126.5,376.0 127.0,375.4 127.5,374.7 128.0,374.4 128.5,374.6 129.0,374.3 129.5,374.5 130.0,373.6 130.5,373.0 131.0,373.5 131.5,373.6 132.0,373.4 132.5,373.9 133.0,373.9 133.5,372.7 134.0,371.5 134.5,372.3 135.0,371.3 135.5,371.1 136.0,370.8 136.5,370.2 137.0,369.8 137.5,370.0 138.0,370.2 138.5,370.1 139.0,370.6 139.5,368.7 140.0,369.5 140.5,369.5 141.0,369.9 141.5,369.5 142.0,369.5 142.5,368.4 143.0,368.6 143.5,368.8 144.0,368.4 144.5,368.3 145.0,368.5 145.5,368.8 146.0,367.0 146.5,368.1 147.0,367.6 147.5,367.3 148.0,367.9 148.5,367.6 149.0,367.9 149.5,367.0 150.0,367.8 150.5,367.3 151.0,368.1 151.5,368.5 152.0,368.3 152.5,368.5 153.0,367.9 153.5,368.4 154.0,367.7 154.5,367.5 155.0,367.4 155.5,366.9 156.0,366.1 156.5,366.4 157.0,365.9 157.5,366.2 158.0,365.3 158.5,365.3 159.0,365.6 159.5,365.5 160.0,366.1 160.5,366.7 161.0,367.1 161.5,367.4 162.0,367.1 162.5,366.4 163.0,366.5 163.5,365.6 164.0,365.6 164.5,364.7 165.0,365.5 165.5,365.2 166.0,364.7 166.5,364.1 167.0,364.5 167.5,364.0 168.0,364.2 168.5,363.5 169.0,363.2 169.5,363.4 170.0,363.7 170.5,362.7 171.0,363.1 171.5,363.3 172.0,363.2 172.5,363.2 173.0,364.3 173.5,363.2 174.0,363.6 174.5,363.2 175.0,363.3 175.5,362.2 176.0,363.0 176.5,362.2 177.0,361.8 177.5,362.7 178.0,362.0 178.5,361.9 179.0,361.7 179.5,362.2 180.0,361.8 180.5,361.8 181.0,361.5 181.5,361.8 182.0,362.3 182.5,362.2 183.0,361.2 183.5,361.4 184.0,361.7 184.5,362.7 185.0,361.7 185.5,361.3 186.0,362.6 186.5,362.3 187.0,362.1 187.5,362.8 188.0,362.3 188.5,361.9 189.0,361.7 189.5,362.1 190.0,362.2 190.5,361.4 191.0,362.2 191.5,361.0 192.0,361.9 192.5,361.4 193.0,361.2 193.5,361.4 194.0,361.0 194.5,361.1 195.0,361.6 195.5,360.7 196.0,361.4 196.5,360.7 197.0,360.9 197.5,361.0 198.0,359.9 198.5,360.3 199.0,359.3 199.5,359.8 200.0,360.3 200.5,360.9 201.0,360.7 201.5,359.8 202.0,359.7 202.5,359.4 203.0,358.5 203.5,359.1 204.0,359.6 204.5,359.9 205.0,359.5 205.5,359.6 206.0,359.2 206.5,359.2 207.0,359.1 207.5,359.3 208.0,358.9 208.5,358.5 209.0,359.4 209.5,359.6 210.0,358.9 210.5,358.7 211.0,358.3 211.5,357.5 212.0,358.0 212.5,358.0 213.0,358.3 213.5,357.6 214.0,357.6 214.5,357.9 215.0,358.5 215.5,359.0 216.0,358.8 216.5,359.5 217.0,359.8 217.5,358.7 218.0,359.9 218.5,359.2 219.0,359.6 219.5,359.3 220.0,359.3 220.5,359.4 221.0,359.5 221.5,359.6 222.0,359.0 222.5,358.6 223.0,358.9 223.5,358.9 224.0,359.6 224.5,358.9 225.0,359.8 225.5,359.1 226.0,358.9 226.5,359.4 227.0,358.7 227.5,358.8 228.0,359.1 228.5,359.0 229.0,358.0 229.5,359.1 230.0,358.4 230.5,357.7 231.0,358.1 231.5,358.4 232.0,358.1 232.5,358.6 233.0,359.5 233.5,359.3 234.0,359.8 234.5,359.3 235.0,358.7 235.5,359.4 236.0,358.6 236.5,359.4 237.0,359.4 237.5,359.0 238.0,359.2 238.5,359.5 239.0,359.8 239.5,360.1 240.0,359.5 240.5,359.9 241.0,359.3 241.5,358.6 242.0,358.6 242.5,358.9 243.0,358.6 243.5,358.7 244.0,359.1 244.5,358.9 245.0,359.1 245.5,358.6 246.0,358.7 246.5,358.5 247.0,358.3 247.5,358.8 248.0,359.1 248.5,358.8 249.0,358.6 249.5,359.2 250.0,357.9 250.5,358.4 251.0,358.5 251.5,358.3 252.0,359.1 252.5,358.4 253.0,358.9 253.5,358.2 254.0,359.6 254.5,360.0 255.0,358.8 255.5,359.0 256.0,358.7 256.5,358.9 257.0,358.2 257.5,359.0 258.0,359.1 258.5,358.5 259.0,357.9 259.5,358.6 260.0,358.8 260.5,359.4 261.0,358.8 261.5,358.6 262.0,359.3 262.5,359.2 263.0,359.1 263.5,358.7 264.0,358.9 264.5,358.6 265.0,357.6 265.5,358.4 266.0,358.8 266.5,358.8 267.0,359.3 267.5,358.4 268.0,358.5 268.5,357.4 269.0,357.6 269.5,357.4 270.0,357.4 270.5,357.4 271.0,357.9 271.5,357.9 272.0,357.3 272.5,357.0 273.0,357.2 273.5,358.0 274.0,357.3 274.5,358.0 275.0,356.7 275.5,357.4 276.0,357.7 276.5,358.0 277.0,357.4 277.5,357.1 278.0,356.6 278.5,357.4 279.0,357.1 279.5,357.3 280.0,357.6 280.5,357.9 281.0,357.8 281.5,358.1 282.0,356.7 282.5,357.7 283.0,357.2 283.5,357.6 284.0,357.7 284.5,358.0 285.0,358.5 285.5,358.3 286.0,357.5 286.5,357.8 287.0,357.7 287.5,357.9 288.0,357.9 288.5,358.0 289.0,358.7 289.5,358.0 290.0,359.4 290.5,358.3 291.0,358.2 291.5,359.0 292.0,359.2 292.5,359.2 293.0,359.3 293.5,358.9 294.0,358.9 294.5,359.2 295.0,359.0 295.5,358.7 296.0,359.2 296.5,358.9 297.0,358.0 297.5,357.9 298.0,358.1 298.5,358.2 299.0,359.1 299.5,359.3 300.0,359.5 300.5,359.0 301.0,358.7 301.5,359.6 302.0,360.0 302.5,358.3 303.0,358.7 303.5,358.7 304.0,357.6 304.5,357.5 305.0,358.3 305.5,358.6 306.0,358.6 306.5,359.6 307.0,359.5 307.5,359.2 308.0,358.9 308.5,358.7 309.0,359.2 309.5,359.0 310.0,359.9 310.5,360.1 311.0,359.6 311.5,360.3 312.0,360.8 312.5,360.5 313.0,359.9 313.5,360.0 314.0,359.8 314.5,359.7 315.0,359.5 315.5,359.2 316.0,359.5 316.5,359.6 317.0,358.7 317.5,358.3 318.0,358.9 318.5,358.7 319.0,358.9 319.5,358.4 320.0,358.9 320.5,358.6 321.0,359.6 321.5,360.1 322.0,359.2 322.5,358.7 323.0,359.4 323.5,359.3 324.0,359.4 324.5,359.2 325.0,359.2 325.5,359.9 326.0,358.4 326.5,358.2 327.0,358.3 327.5,357.4 328.0,358.7 328.5,358.5 329.0,358.4 329.5,358.7 330.0,359.2 330.5,359.4 331.0,359.5 331.5,359.3 332.0,358.8 332.5,359.3 333.0,358.9 333.5,359.7" fill="none" stroke="#00ff00" stroke-width="1.25" stroke-linejoin="round"/>
<polyline points="62.6,428.3 63.4,428.4 64.2,428.5 65.0,428.4 65.8,428.4 66.6,428.2 67.4,428.1 68.2,428.2 69.0,428.2 69.8,428.1 70.6,428.1 71.4,428.1 72.2,428.2 73.0,428.1 73.8,427.9 74.5,428.2 74.8,428.2 75.2,428.1 75.5,427.9 75.9,427.2 76.2,426.5 76.5,425.5 76.9,424.5 77.2,423.6 77.6,422.8 77.9,422.2 78.2,421.4 78.6,420.7 78.9,420.0 79.3,419.3 79.6,418.9 79.9,418.3 80.3,418.0 80.6,417.6 81.0,417.3 81.3,417.0 81.6,416.6 82.0,416.5 82.3,416.2 82.7,415.9 83.0,415.6 83.3,415.5 83.7,415.2 84.0,415.3 84.4,414.8 84.7,414.7 85.0,415.1 85.4,414.8 85.7,414.1 86.1,414.4 86.4,414.0 86.7,413.6 87.1,412.7 87.4,412.9 87.8,412.5 88.1,412.4 88.4,411.8 88.8,412.5 89.1,411.6 89.5,411.9 89.8,412.1 90.1,412.1 90.5,412.0 90.8,411.5 91.2,411.4 91.5,411.0 91.8,410.1 92.2,410.9 92.5,409.9 92.9,409.6 93.2,409.3 93.5,408.8 93.9,408.9 94.2,408.7 94.6,409.9 94.9,410.4 95.2,410.1 95.6,409.5 95.9,410.3 96.3,409.6 96.6,408.9 96.9,408.5 97.3,408.9 97.6,408.9 98.0,408.0 98.3,407.9 98.6,408.3 99.0,408.4 99.3,408.8 99.7,409.3 100.0,408.7 100.5,409.0 101.0,408.0 101.5,408.5 102.0,408.3 102.5,407.9 103.0,407.6 103.5,407.1 104.0,407.4 104.5,406.4 105.0,407.2 105.5,407.2 106.0,406.4 106.5,406.8 107.0,405.1 107.5,406.0 108.0,406.1 108.5,406.3 109.0,406.9 109.5,406.6 110.0,406.7 110.5,407.2 111.0,406.7 111.5,406.2 112.0,406.7 112.5,406.5 113.0,406.2 113.5,406.7 114.0,406.1 114.5,406.0 115.0,406.1 115.5,405.8 116.0,405.6 116.5,405.0 117.0,406.2 117.5,405.9 118.0,405.8 118.5,405.9 119.0,404.8 119.5,406.1 120.0,405.3 120.5,405.8 121.0,404.9 121.5,405.5 122.0,404.6 122.5,404.4 123.0,404.6 123.5,404.0 124.0,403.1 124.5,403.7 125.0,404.5 125.5,404.7 126.0,405.0 126.5,404.1 127.0,403.2 127.5,403.3 128.0,403.5 128.5,404.0 129.0,404.2 129.5,404.6 130.0,404.2 130.5,404.0 131.0,404.2 131.5,403.8 132.0,403.8 132.5,404.0 133.0,404.5 133.5,404.6 134.0,404.3 134.5,403.3 135.0,404.5 135.5,403.9 136.0,404.3 136.5,404.6 137.0,403.7 137.5,403.5 138.0,403.5 138.5,404.5 139.0,404.6 139.5,404.1 140.0,404.5 140.5,404.2 141.0,404.0 141.5,403.4 142.0,404.1 142.5,403.2 143.0,403.5 143.5,402.2 144.0,402.7 144.5,402.5 145.0,403.1 145.5,401.7 146.0,402.9 146.5,403.1 147.0,402.8 147.5,403.7 148.0,404.1 148.5,403.6 149.0,403.4 149.5,403.5 150.0,403.1 150.5,403.3 151.0,403.0 151.5,402.5 152.0,402.5 152.5,403.5 153.0,403.4 153.5,402.8 154.0,402.9 154.5,403.2 155.0,401.9 155.5,402.2 156.0,402.9 156.5,402.9 157.0,401.9 157.5,401.6 158.0,401.8 158.5,402.2 159.0,401.8 159.5,401.3 160.0,403.0 160.5,402.8 161.0,402.7 161.5,402.3 162.0,403.0 162.5,402.5 163.0,402.5 163.5,402.6 164.0,402.7 164.5,402.8 165.0,403.2 165.5,402.3 166.0,402.9 166.5,402.9 167.0,403.6 167.5,402.7 168.0,402.1 168.5,402.6 169.0,402.2 169.5,402.2 170.0,402.5 170.5,402.3 171.0,402.2 171.5,403.7 172.0,402.9 172.5,402.5 173.0,402.8 173.5,402.7 174.0,401.3 174.5,401.7 175.0,402.0 175.5,401.5 176.0,401.9 176.5,401.2 177.0,401.5 177.5,401.8 178.0,401.8 178.5,401.4 179.0,401.1 179.5,401.3 180.0,400.7 180.5,402.2 181.0,400.8 181.5,400.6 182.0,400.6 182.5,400.6 183.0,400.3 183.5,399.9 184.0,399.6 184.5,400.4 185.0,400.3 185.5,400.4 186.0,400.6 186.5,400.7 187.0,401.2 187.5,400.7 188.0,400.1 188.5,401.1 189.0,401.3 189.5,400.5 190.0,401.5 190.5,401.4 191.0,401.2 191.5,401.5 192.0,401.4 192.5,401.2 193.0,401.4 193.5,401.3 194.0,401.5 194.5,402.5 195.0,401.0 195.5,401.1 196.0,400.9 196.5,401.2 197.0,401.2 197.5,400.4 198.0,401.6 198.5,400.8 199.0,402.3 199.5,401.1 200.0,402.0 200.5,401.8 201.0,402.5 201.5,402.2 202.0,402.5 202.5,402.3 203.0,402.3 203.5,402.7 204.0,402.5 204.5,402.6 205.0,402.3 205.5,403.0 206.0,403.0 206.5,403.6 207.0,403.3 207.5,402.4 208.0,402.6 208.5,402.9 209.0,402.4 209.5,402.1 210.0,403.5 210.5,402.9 211.0,403.0 211.5,403.6 212.0,402.1 212.5,402.3 213.0,401.3 213.5,402.3 214.0,402.7 214.5,402.9 215.0,403.3 215.5,403.7 216.0,403.8 216.5,404.7 217.0,404.3 217.5,404.4 218.0,404.3 218.5,403.5 219.0,403.7 219.5,403.5 220.0,404.3 220.5,403.7 221.0,404.2 221.5,404.5 222.0,403.5 222.5,403.6 223.0,404.5 223.5,403.8 224.0,404.5 224.5,405.0 225.0,404.6 225.5,404.3 226.0,405.3 226.5,404.2 227.0,404.4 227.5,403.9 228.0,404.5 228.5,404.1 229.0,404.4 229.5,404.7 230.0,404.9 230.5,404.8 231.0,404.8 231.5,405.1 232.0,404.8 232.5,405.5 233.0,404.9 233.5,405.4 234.0,405.7 234.5,405.8 235.0,404.1 235.5,405.1 236.0,403.3 236.5,404.2 237.0,403.6 237.5,403.8 238.0,403.4 238.5,404.1 239.0,404.1 239.5,403.6 240.0,403.6 240.5,404.2 241.0,404.3 241.5,404.3 242.0,404.0 242.5,404.2 243.0,404.5 243.5,404.2 244.0,404.0 244.5,403.6 245.0,403.4 245.5,404.0 246.0,404.3 246.5,404.0 247.0,404.4 247.5,403.9 248.0,404.5 248.5,404.3 249.0,405.6 249.5,405.3 250.0,405.0 250.5,404.2 251.0,404.0 251.5,404.7 252.0,404.5 252.5,404.8 253.0,404.1 253.5,404.1 254.0,404.7 254.5,404.7 255.0,404.5 255.5,404.9 256.0,405.6 256.5,405.2 257.0,405.7 257.5,406.2 258.0,405.8 258.5,405.9 259.0,405.8 259.5,406.6 260.0,405.7 260.5,405.9 261.0,406.4 261.5,405.8 262.0,406.6 262.5,405.7 263.0,405.9 263.5,405.6 264.0,405.8 264.5,406.2 265.0,405.3 265.5,405.2 266.0,405.0 266.5,405.6 267.0,405.0 267.5,405.1 268.0,404.7 268.5,405.5 269.0,405.5 269.5,405.1 270.0,405.7 270.5,404.4 271.0,404.7 271.5,405.3 272.0,405.2 272.5,405.5 273.0,405.6 273.5,405.4 274.0,405.6 274.5,405.7 275.0,405.7 275.5,405.0 276.0,404.9 276.5,405.8 277.0,405.5 277.5,405.7 278.0,406.5 278.5,406.5 279.0,406.8 279.5,406.7 280.0,407.0 280.5,407.1 281.0,406.5 281.5,406.6 282.0,407.8 282.5,406.7 283.0,406.1 283.5,405.9 284.0,406.7 284.5,406.4 285.0,405.8 285.5,405.7 286.0,405.3 286.5,405.9 287.0,405.6 287.5,406.0 288.0,406.1 288.5,406.9 289.0,407.5 289.5,407.4 290.0,407.8 290.5,407.5 291.0,408.0 291.5,408.0 292.0,407.6 292.5,408.2 293.0,407.6 293.5,407.7 294.0,407.0 294.5,407.0 295.0,407.2 295.5,406.9 296.0,407.3 296.5,407.3 297.0,407.8 297.5,407.8 298.0,407.2 298.5,407.8 299.0,407.0 299.5,406.9 300.0,407.3 300.5,407.4 301.0,407.8 301.5,408.5 302.0,407.3 302.5,407.4 303.0,406.6 303.5,406.7 304.0,406.4 304.5,406.4 305.0,406.9 305.5,406.4 306.0,406.3 306.5,405.7 307.0,406.6 307.5,405.9 308.0,405.9 308.5,406.3 309.0,406.8 309.5,406.8 310.0,407.0 310.5,406.0 311.0,406.4 311.5,407.5 312.0,408.1 312.5,407.3 313.0,407.6 313.5,406.9 314.0,407.1 314.5,407.1 315.0,407.5 315.5,407.1 316.0,407.7 316.5,407.1 317.0,406.8 317.5,407.2 318.0,406.9 318.5,406.7 319.0,407.3 319.5,408.1 320.0,407.2 320.5,407.1 321.0,406.6 321.5,406.4 322.0,406.5 322.5,405.4 323.0,406.2 323.5,407.0 324.0,407.5 324.5,408.5 325.0,409.1 325.5,408.6 326.0,408.6 326.5,408.7 327.0,409.1 327.5,408.1 328.0,408.3 328.5,408.4 329.0,408.1 329.5,406.9 330.0,407.5 330.5,406.4 331.0,407.0 331.5,406.7 332.0,405.2 332.5,406.3 333.0,406.3 333.5,406.2" fill="none" stroke="#0000ff" stroke-width="1.25" stroke-linejoin="round"/>
<polyline points="62.6,430.6 63.4,432.1 64.2,433.9 65.0,434.2 65.8,432.6 66.6,431.1 67.4,430.1 68.2,429.8 69.0,429.8 69.8,430.0 70.6,430.0 71.4,430.0 72.2,430.2 73.0,430.9 73.8,431.2 74.5,429.5 74.8,428.7 75.2,428.2 75.5,427.7 75.9,427.2 76.2,426.7 76.5,426.3 76.9,425.9 77.2,425.4 77.6,425.2 77.9,424.9 78.2,424.5 78.6,424.3 78.9,424.0 79.3,423.7 79.6,423.6 79.9,423.4 80.3,423.1 80.6,422.9 81.0,422.7 81.3,422.6 81.6,422.3 82.0,422.5 82.3,422.1 82.7,422.3 83.0,422.2 83.3,421.9 83.7,421.9 84.0,421.4 84.4,421.4 84.7,421.0 85.0,420.7 85.4,421.0 85.7,420.7 86.1,420.7 86.4,421.1 86.7,420.9 87.1,420.9 87.4,421.1 87.8,420.6 88.1,420.6 88.4,420.2 88.8,420.9 89.1,420.9 89.5,420.2 89.8,420.6 90.1,420.4 90.5,420.1 90.8,420.1 91.2,420.6 91.5,419.5 91.8,419.6 92.2,419.8 92.5,419.7 92.9,419.0 93.2,419.8 93.5,419.6 93.9,419.4 94.2,418.1 94.6,417.7 94.9,418.4 95.2,417.8 95.6,418.0 95.9,417.5 96.3,417.5 96.6,417.3 96.9,418.0 97.3,417.5 97.6,418.6 98.0,417.6 98.3,416.9 98.6,416.9 99.0,417.4 99.3,417.5 99.7,417.5 100.0,418.3 100.5,418.0 101.0,416.9 101.5,417.4 102.0,417.1 102.5,417.5 103.0,417.0 103.5,418.2 104.0,417.4 104.5,417.8 105.0,416.6 105.5,417.3 106.0,416.9 106.5,417.6 107.0,416.8 107.5,416.1 108.0,415.6 108.5,415.4 109.0,415.6 109.5,415.4 110.0,415.3 110.5,415.6 111.0,415.7 111.5,414.5 112.0,415.3 112.5,415.9 113.0,415.1 113.5,415.4 114.0,416.1 114.5,416.2 115.0,415.9 115.5,415.9 116.0,416.4 116.5,416.2 117.0,415.8 117.5,415.6 118.0,415.9 118.5,416.4 119.0,415.9 119.5,415.7 120.0,416.2 120.5,415.8 121.0,415.7 121.5,416.0 122.0,416.5 122.5,416.0 123.0,415.8 123.5,415.0 124.0,415.1 124.5,413.8 125.0,413.8 125.5,414.3 126.0,415.5 126.5,415.4 127.0,414.6 127.5,415.0 128.0,415.5 128.5,415.4 129.0,415.8 129.5,415.5 130.0,415.4 130.5,416.7 131.0,417.3 131.5,416.4 132.0,416.1 132.5,416.3 133.0,415.4 133.5,416.1 134.0,415.5 134.5,416.4 135.0,416.1 135.5,416.2 136.0,416.1 136.5,415.6 137.0,415.1 137.5,415.8 138.0,415.0 138.5,416.3 139.0,415.7 139.5,416.0 140.0,416.5 140.5,416.8 141.0,417.0 141.5,416.3 142.0,416.3 142.5,416.5 143.0,416.2 143.5,415.7 144.0,415.9 144.5,415.1 145.0,415.5 145.5,415.5 146.0,415.2 146.5,414.8 147.0,415.0 147.5,414.7 148.0,414.6 148.5,414.0 149.0,414.5 149.5,414.9 150.0,413.9 150.5,413.9 151.0,413.5 151.5,413.8 152.0,412.6 152.5,414.0 153.0,413.7 153.5,413.4 154.0,413.5 154.5,413.8 155.0,413.8 155.5,414.5 156.0,415.3 156.5,415.5 157.0,416.1 157.5,416.5 158.0,416.0 158.5,415.5 159.0,416.1 159.5,416.7 160.0,416.1 160.5,416.6 161.0,416.7 161.5,416.9 162.0,416.3 162.5,416.3 163.0,416.9 163.5,416.4 164.0,416.0 164.5,416.5 165.0,416.1 165.5,416.3 166.0,414.7 166.5,414.9 167.0,414.9 167.5,413.8 168.0,413.9 168.5,414.5 169.0,414.5 169.5,414.4 170.0,414.5 170.5,413.6 171.0,413.6 171.5,414.6 172.0,413.7 172.5,414.2 173.0,413.9 173.5,414.0 174.0,413.5 174.5,413.3 175.0,413.4 175.5,413.1 176.0,412.5 176.5,413.1 177.0,414.2 177.5,414.3 178.0,414.1 178.5,413.7 179.0,414.1 179.5,415.1 180.0,414.8 180.5,414.8 181.0,413.9 181.5,414.1 182.0,414.6 182.5,414.5 183.0,415.1 183.5,414.5 184.0,414.9 184.5,414.4 185.0,414.3 185.5,415.1 186.0,415.4 186.5,415.5 187.0,415.4 187.5,415.6 188.0,415.1 188.5,415.3 189.0,416.0 189.5,416.4 190.0,416.9 190.5,416.1 191.0,415.2 191.5,415.3 192.0,414.9 192.5,415.5 193.0,415.6 193.5,415.8 194.0,415.9 194.5,415.9 195.0,415.5 195.5,414.6 196.0,415.3 196.5,414.7 197.0,415.4 197.5,415.5 198.0,416.3 198.5,415.8 199.0,416.0 199.5,416.0 200.0,416.4 200.5,416.1 201.0,415.7 201.5,415.9 202.0,416.1 202.5,415.8 203.0,415.7 203.5,415.1 204.0,415.3 204.5,415.4 205.0,414.8 205.5,416.2 206.0,415.1 206.5,415.7 207.0,415.0 207.5,415.4 208.0,415.6 208.5,415.5 209.0,414.8 209.5,414.7 210.0,415.2 210.5,414.7 211.0,414.6 211.5,414.7 212.0,413.0 212.5,413.8 213.0,414.1 213.5,414.6 214.0,414.5 214.5,414.3 215.0,415.0 215.5,415.3 216.0,414.2 216.5,413.9 217.0,414.0 217.5,413.9 218.0,413.2 218.5,412.9 219.0,413.2 219.5,413.4 220.0,413.9 220.5,413.5 221.0,414.0 221.5,414.7 222.0,415.7 222.5,415.2 223.0,414.4 223.5,414.7 224.0,413.8 224.5,413.6 225.0,413.9 225.5,414.1 226.0,413.7 226.5,414.0 227.0,414.5 227.5,414.8 228.0,415.6 228.5,415.2 229.0,415.0 229.5,415.1 230.0,415.2 230.5,415.1 231.0,415.3 231.5,415.6 232.0,415.9 232.5,415.7 233.0,416.2 233.5,416.6 234.0,417.2 234.5,417.5 235.0,417.8 235.5,417.4 236.0,416.2 236.5,417.4 237.0,417.4 237.5,417.1 238.0,417.2 238.5,416.6 239.0,416.9 239.5,416.7 240.0,417.5 240.5,417.7 241.0,417.2 241.5,417.6 242.0,418.1 242.5,418.1 243.0,417.9 243.5,417.4 244.0,417.4 244.5,417.7 245.0,417.7 245.5,417.5 246.0,417.1 246.5,417.1 247.0,416.8 247.5,416.3 248.0,416.2 248.5,416.3 249.0,416.3 249.5,417.3 250.0,417.5 250.5,417.5 251.0,416.7 251.5,416.5 252.0,416.6 252.5,416.4 253.0,416.7 253.5,416.9 254.0,416.7 254.5,417.8 255.0,416.5 255.5,416.2 256.0,417.0 256.5,416.5 257.0,417.6 257.5,417.6 258.0,417.7 258.5,417.5 259.0,417.3 259.5,417.4 260.0,417.9 260.5,417.7 261.0,417.3 261.5,417.2 262.0,417.2 262.5,417.4 263.0,417.5 263.5,417.6 264.0,417.1 264.5,417.6 265.0,417.3 265.5,417.6 266.0,416.8 266.5,417.3 267.0,417.5 267.5,416.6 268.0,417.8 268.5,417.9 269.0,418.3 269.5,418.3 270.0,418.8 270.5,418.3 271.0,418.1 271.5,418.5 272.0,418.4 272.5,417.5 273.0,418.4 273.5,418.4 274.0,418.5 274.5,418.0 275.0,418.7 275.5,418.4 276.0,418.5 276.5,418.2 277.0,418.1 277.5,418.0 278.0,418.1 278.5,418.8 279.0,418.1 279.5,418.0 280.0,418.0 280.5,417.5 281.0,416.6 281.5,416.8 282.0,416.7 282.5,417.6 283.0,417.5 283.5,417.0 284.0,417.0 284.5,417.2 285.0,417.7 285.5,417.5 286.0,418.2 286.5,417.4 287.0,417.8 287.5,417.7 288.0,416.0 288.5,417.0 289.0,417.4 289.5,417.9 290.0,418.1 290.5,418.2 291.0,418.3 291.5,418.1 292.0,417.9 292.5,418.3 293.0,418.0 293.5,417.9 294.0,417.4 294.5,417.4 295.0,417.9 295.5,417.0 296.0,417.6 296.5,416.6 297.0,417.8 297.5,417.3 298.0,416.5 298.5,416.4 299.0,415.9 299.5,416.8 300.0,417.4 300.5,417.3 301.0,417.2 301.5,418.3 302.0,418.0 302.5,418.0 303.0,417.8 303.5,418.0 304.0,418.6 304.5,417.9 305.0,417.5 305.5,418.5 306.0,419.1 306.5,418.7 307.0,417.8 307.5,418.1 308.0,417.4 308.5,418.0 309.0,417.3 309.5,417.3 310.0,417.3 310.5,417.4 311.0,418.4 311.5,418.3 312.0,417.4 312.5,417.3 313.0,417.6 313.5,416.5 314.0,416.2 314.5,415.8 315.0,416.6 315.5,416.0 316.0,416.0 316.5,416.0 317.0,416.0 317.5,416.9 318.0,416.5 318.5,416.8 319.0,416.4 319.5,416.4 320.0,416.4 320.5,416.4 321.0,416.2 321.5,416.8 322.0,417.3 322.5,416.5 323.0,417.6 323.5,417.4 324.0,417.2 324.5,417.7 325.0,417.8 325.5,417.2 326.0,416.7 326.5,416.3 327.0,416.5 327.5,415.7 328.0,415.8 328.5,415.8 329.0,415.3 329.5,414.8 330.0,415.2 330.5,415.5 331.0,416.2 331.5,416.1 332.0,416.5 332.5,416.9 333.0,417.8 333.5,419.0" fill="none" stroke="#00ffff" stroke-width="1.25" stroke-linejoin="round"/>
<polyline points="62.6,428.2 63.4,428.3 64.2,428.1 65.0,428.1 65.8,428.1 66.6,427.9 67.4,428.1 68.2,428.1 69.0,428.3 69.8,428.2 70.6,428.2 71.4,428.4 72.2,428.3 73.0,428.2 73.8,428.4 74.5,428.3 74.8,428.4 75.2,428.3 75.5,428.3 75.9,428.0 76.2,427.8 76.5,427.4 76.9,427.1 77.2,426.8 77.6,426.3 77.9,425.8 78.2,425.4 78.6,425.0 78.9,424.6 79.3,424.2 79.6,424.0 79.9,423.9 80.3,423.6 80.6,423.4 81.0,423.2 81.3,423.2 81.6,422.9 82.0,423.0 82.3,422.8 82.7,422.6 83.0,422.4 83.3,422.4 83.7,422.4 84.0,422.6 84.4,422.5 84.7,422.5 85.0,422.6 85.4,422.6 85.7,422.4 86.1,422.7 86.4,422.7 86.7,422.3 87.1,422.7 87.4,422.2 87.8,422.4 88.1,422.6 88.4,421.6 88.8,421.9 89.1,421.9 89.5,421.8 89.8,421.7 90.1,421.8 90.5,421.1 90.8,421.2 91.2,421.7 91.5,420.8 91.8,421.3 92.2,421.5 92.5,421.9 92.9,422.4 93.2,422.5 93.5,422.4 93.9,422.5 94.2,422.9 94.6,422.6 94.9,422.2 95.2,421.8 95.6,421.5 95.9,420.7 96.3,421.2 96.6,421.7 96.9,421.2 97.3,421.9 97.6,421.8 98.0,422.0 98.3,420.8 98.6,420.7 99.0,420.3 99.3,420.2 99.7,419.7 100.0,419.6 100.5,420.5 101.0,420.3 101.5,420.4 102.0,419.6 102.5,419.5 103.0,419.7 103.5,421.1 104.0,420.8 104.5,419.8 105.0,420.3 105.5,420.2 106.0,419.4 106.5,418.9 107.0,419.0 107.5,418.4 108.0,418.2 108.5,418.0 109.0,418.0 109.5,418.3 110.0,418.3 110.5,419.1 111.0,418.6 111.5,418.6 112.0,418.2 112.5,417.7 113.0,417.8 113.5,417.7 114.0,417.6 114.5,418.4 115.0,419.2 115.5,418.7 116.0,418.4 116.5,418.0 117.0,417.6 117.5,418.3 118.0,418.3 118.5,417.9 119.0,418.3 119.5,417.8 120.0,418.4 120.5,417.7 121.0,417.9 121.5,418.6 122.0,417.3 122.5,418.2 123.0,418.1 123.5,418.0 124.0,418.1 124.5,418.7 125.0,418.1 125.5,418.3 126.0,419.4 126.5,419.5 127.0,419.5 127.5,419.6 128.0,419.2 128.5,419.0 129.0,419.1 129.5,419.3 130.0,419.0 130.5,418.4 131.0,418.6 131.5,418.6 132.0,418.6 132.5,419.2 133.0,419.3 133.5,419.5 134.0,419.1 134.5,419.1 135.0,419.5 135.5,419.8 136.0,419.4 136.5,419.0 137.0,419.5 137.5,418.5 138.0,418.7 138.5,418.4 139.0,418.6 139.5,419.1 140.0,419.3 140.5,418.3 141.0,418.3 141.5,417.6 142.0,419.0 142.5,419.3 143.0,418.8 143.5,418.5 144.0,418.6 144.5,417.6 145.0,417.9 145.5,418.2 146.0,418.5 146.5,418.6 147.0,418.5 147.5,418.8 148.0,418.6 148.5,419.7 149.0,419.7 149.5,419.3 150.0,419.3 150.5,419.3 151.0,419.0 151.5,419.5 152.0,419.6 152.5,419.7 153.0,419.7 153.5,418.9 154.0,419.9 154.5,419.4 155.0,419.1 155.5,420.5 156.0,419.4 156.5,419.6 157.0,419.5 157.5,419.2 158.0,419.9 158.5,418.2 159.0,418.8 159.5,418.1 160.0,418.6 160.5,418.3 161.0,417.9 161.5,417.3 162.0,418.3 162.5,418.6 163.0,418.7 163.5,418.6 164.0,419.2 164.5,418.8 165.0,419.4 165.5,419.5 166.0,419.2 166.5,418.9 167.0,419.1 167.5,418.9 168.0,418.7 168.5,419.4 169.0,418.7 169.5,418.5 170.0,418.6 170.5,419.0 171.0,418.8 171.5,418.7 172.0,418.9 172.5,418.5 173.0,417.6 173.5,417.2 174.0,417.9 174.5,417.2 175.0,417.8 175.5,417.7 176.0,417.7 176.5,417.8 177.0,418.6 177.5,417.8 178.0,417.9 178.5,417.9 179.0,418.3 179.5,418.0 180.0,418.3 180.5,417.5 181.0,417.8 181.5,417.4 182.0,417.2 182.5,416.9 183.0,417.9 183.5,418.4 184.0,418.0 184.5,418.0 185.0,418.8 185.5,418.7 186.0,419.0 186.5,419.2 187.0,418.5 187.5,419.3 188.0,418.8 188.5,418.8 189.0,419.1 189.5,419.6 190.0,418.7 190.5,419.0 191.0,418.6 191.5,419.2 192.0,419.2 192.5,419.4 193.0,418.9 193.5,418.6 194.0,417.8 194.5,418.6 195.0,418.7 195.5,418.5 196.0,418.4 196.5,418.5 197.0,418.5 197.5,418.0 198.0,418.6 198.5,418.9 199.0,418.8 199.5,418.1 200.0,417.6 200.5,418.5 201.0,418.8 201.5,419.4 202.0,419.1 202.5,418.8 203.0,419.5 203.5,419.4 204.0,419.2 204.5,418.8 205.0,418.5 205.5,418.8 206.0,418.8 206.5,419.0 207.0,419.0 207.5,419.1 208.0,419.8 208.5,419.0 209.0,419.5 209.5,418.6 210.0,418.7 210.5,418.9 211.0,418.5 211.5,419.8 212.0,419.3 212.5,419.3 213.0,419.4 213.5,418.7 214.0,419.1 214.5,417.8 215.0,419.3 215.5,419.1 216.0,418.6 216.5,418.9 217.0,417.9 217.5,417.0 218.0,416.2 218.5,417.4 219.0,415.7 219.5,416.7 220.0,417.1 220.5,416.5 221.0,415.7 221.5,415.6 222.0,415.5 222.5,416.0 223.0,416.2 223.5,416.0 224.0,415.9 224.5,417.0 225.0,416.3 225.5,416.8 226.0,418.7 226.5,418.0 227.0,418.0 227.5,418.1 228.0,418.5 228.5,417.8 229.0,418.0 229.5,417.1 230.0,417.6 230.5,417.7 231.0,417.7 231.5,418.2 232.0,417.8 232.5,416.7 233.0,417.6 233.5,418.2 234.0,418.4 234.5,418.4 235.0,418.5 235.5,417.5 236.0,417.3 236.5,418.4 237.0,417.7 237.5,417.1 238.0,417.6 238.5,417.8 239.0,417.5 239.5,417.5 240.0,418.3 240.5,417.6 241.0,418.2 241.5,418.1 242.0,417.7 242.5,418.4 243.0,416.8 243.5,418.4 244.0,417.3 244.5,417.8 245.0,417.9 245.5,417.9 246.0,417.5 246.5,417.2 247.0,417.2 247.5,417.9 248.0,418.1 248.5,417.4 249.0,418.0 249.5,417.7 250.0,417.6 250.5,417.2 251.0,417.1 251.5,417.5 252.0,415.8 252.5,416.2 253.0,416.1 253.5,415.1 254.0,416.2 254.5,416.2 255.0,415.3 255.5,415.9 256.0,416.1 256.5,416.0 257.0,415.9 257.5,416.3 258.0,416.8 258.5,416.2 259.0,416.1 259.5,415.8 260.0,415.1 260.5,415.4 261.0,415.0 261.5,414.9 262.0,415.6 262.5,414.7 263.0,415.4 263.5,415.7 264.0,416.0 264.5,415.7 265.0,416.2 265.5,416.7 266.0,417.1 266.5,416.9 267.0,417.1 267.5,417.2 268.0,417.9 268.5,417.0 269.0,418.2 269.5,417.9 270.0,417.2 270.5,416.8 271.0,417.9 271.5,417.4 272.0,418.3 272.5,417.5 273.0,417.3 273.5,417.4 274.0,417.0 274.5,416.8 275.0,416.9 275.5,416.8 276.0,417.1 276.5,417.6 277.0,418.0 277.5,418.0 278.0,418.3 278.5,418.3 279.0,418.1 279.5,418.1 280.0,417.6 280.5,417.8 281.0,417.4 281.5,417.5 282.0,417.3 282.5,417.2 283.0,418.0 283.5,418.4 284.0,418.5 284.5,418.1 285.0,418.3 285.5,417.1 286.0,417.0 286.5,417.9 287.0,418.2 287.5,418.8 288.0,419.3 288.5,420.2 289.0,418.8 289.5,418.9 290.0,419.2 290.5,418.6 291.0,418.7 291.5,419.4 292.0,419.0 292.5,419.2 293.0,419.6 293.5,418.3 294.0,418.7 294.5,418.4 295.0,418.3 295.5,417.7 296.0,417.8 296.5,417.9 297.0,418.3 297.5,417.9 298.0,418.5 298.5,417.4 299.0,418.1 299.5,418.0 300.0,417.5 300.5,418.0 301.0,418.4 301.5,418.6 302.0,418.9 302.5,418.5 303.0,418.5 303.5,418.6 304.0,418.7 304.5,418.7 305.0,418.4 305.5,418.1 306.0,418.1 306.5,417.8 307.0,417.6 307.5,417.6 308.0,417.5 308.5,418.1 309.0,417.7 309.5,418.6 310.0,418.4 310.5,419.0 311.0,418.6 311.5,418.7 312.0,418.2 312.5,417.4 313.0,417.6 313.5,417.2 314.0,417.0 314.5,416.8 315.0,417.1 315.5,417.3 316.0,417.6 316.5,418.6 317.0,417.7 317.5,418.0 318.0,418.0 318.5,417.9 319.0,418.0 319.5,418.3 320.0,418.4 320.5,418.8 321.0,418.9 321.5,418.5 322.0,418.8 322.5,418.8 323.0,418.6 323.5,418.4 324.0,418.1 324.5,418.1 325.0,418.0 325.5,418.1 326.0,418.6 326.5,419.1 327.0,418.2 327.5,418.6 328.0,417.9 328.5,419.0 329.0,417.7 329.5,417.3 330.0,417.4 330.5,417.2 331.0,417.8 331.5,418.8 332.0,417.9 332.5,417.3 333.0,417.1 333.5,417.2" fill="none" stroke="#ff00ff" stroke-width="1.25" stroke-linejoin="round"/>
<polyline points="62.6,428.3 63.4,428.3 64.2,428.5 65.0,428.3 65.8,428.5 66.6,428.3 67.4,428.5 68.2,428.5 69.0,428.5 69.8,428.5 70.6,428.5 71.4,428.4 72.2,428.3 73.0,428.3 73.8,428.1 74.5,428.1 74.8,428.0 75.2,428.0 75.5,428.0 75.9,427.9 76.2,427.6 76.5,427.5 76.9,427.1 77.2,426.8 77.6,426.4 77.9,426.0 78.2,425.7 78.6,425.5 78.9,425.1 79.3,424.8 79.6,424.6 79.9,424.5 80.3,424.4 80.6,424.3 81.0,424.2 81.3,423.9 81.6,424.1 82.0,423.8 82.3,423.8 82.7,424.1 83.0,423.9 83.3,423.9 83.7,423.7 84.0,424.1 84.4,423.9 84.7,423.5 85.0,423.5 85.4,423.0 85.7,423.1 86.1,423.4 86.4,423.6 86.7,423.4 87.1,423.1 87.4,423.4 87.8,423.9 88.1,423.4 88.4,423.6 88.8,423.5 89.1,423.1 89.5,423.1 89.8,422.3 90.1,422.4 90.5,422.6 90.8,422.9 91.2,423.3 91.5,422.8 91.8,423.0 92.2,422.4 92.5,421.9 92.9,421.6 93.2,422.0 93.5,422.3 93.9,422.3 94.2,423.8 94.6,422.5 94.9,422.5 95.2,421.9 95.6,423.3 95.9,422.0 96.3,423.4 96.6,424.0 96.9,424.1 97.3,423.0 97.6,421.9 98.0,422.5 98.3,422.1 98.6,421.9 99.0,422.2 99.3,422.4 99.7,422.6 100.0,421.9 100.5,422.4 101.0,422.1 101.5,422.4 102.0,422.0 102.5,421.2 103.0,421.9 103.5,421.6 104.0,421.2 104.5,421.4 105.0,421.5 105.5,421.8 106.0,422.0 106.5,421.3 107.0,421.5 107.5,422.2 108.0,422.2 108.5,422.1 109.0,421.7 109.5,421.2 110.0,421.7 110.5,421.5 111.0,421.2 111.5,421.8 112.0,422.2 112.5,421.9 113.0,422.3 113.5,422.4 114.0,422.8 114.5,422.9 115.0,423.4 115.5,422.9 116.0,423.1 116.5,423.7 117.0,424.0 117.5,422.9 118.0,423.4 118.5,423.1 119.0,422.9 119.5,423.1 120.0,423.1 120.5,421.8 121.0,422.2 121.5,421.8 122.0,421.9 122.5,421.5 123.0,421.1 123.5,421.9 124.0,422.1 124.5,422.0 125.0,422.0 125.5,422.7 126.0,423.0 126.5,423.1 127.0,422.4 127.5,422.4 128.0,421.8 128.5,422.4 129.0,422.7 129.5,422.5 130.0,422.9 130.5,422.7 131.0,422.7 131.5,423.0 132.0,422.0 132.5,422.0 133.0,421.8 133.5,420.6 134.0,420.2 134.5,420.0 135.0,420.0 135.5,420.5 136.0,420.5 136.5,421.0 137.0,420.9 137.5,420.7 138.0,421.3 138.5,421.6 139.0,421.5 139.5,421.1 140.0,421.4 140.5,421.2 141.0,421.5 141.5,421.7 142.0,421.8 142.5,422.0 143.0,420.9 143.5,422.1 144.0,421.6 144.5,422.0 145.0,421.3 145.5,421.7 146.0,421.2 146.5,420.8 147.0,421.4 147.5,421.2 148.0,421.4 148.5,421.5 149.0,421.3 149.5,421.0 150.0,421.0 150.5,419.9 151.0,420.9 151.5,420.2 152.0,420.5 152.5,420.2 153.0,419.9 153.5,420.7 154.0,420.2 154.5,420.7 155.0,421.7 155.5,420.3 156.0,420.2 156.5,420.8 157.0,420.1 157.5,420.5 158.0,420.3 158.5,420.2 159.0,420.7 159.5,420.0 160.0,419.9 160.5,419.9 161.0,419.2 161.5,419.1 162.0,419.1 162.5,420.4 163.0,421.0 163.5,420.9 164.0,420.4 164.5,420.5 165.0,420.1 165.5,420.2 166.0,420.4 166.5,420.2 167.0,420.3 167.5,419.2 168.0,420.5 168.5,420.0 169.0,420.7 169.5,421.1 170.0,421.2 170.5,421.6 171.0,422.1 171.5,420.6 172.0,420.5 172.5,421.3 173.0,420.4 173.5,419.6 174.0,419.6 174.5,419.6 175.0,419.8 175.5,419.0 176.0,419.0 176.5,418.4 177.0,419.6 177.5,419.2 178.0,418.7 178.5,418.4 179.0,419.2 179.5,419.9 180.0,420.8 180.5,421.0 181.0,420.3 181.5,420.3 182.0,420.2 182.5,420.7 183.0,420.2 183.5,420.7 184.0,420.6 184.5,420.7 185.0,420.3 185.5,421.3 186.0,421.1 186.5,420.9 187.0,421.3 187.5,421.1 188.0,420.9 188.5,421.2 189.0,421.4 189.5,421.8 190.0,420.8 190.5,421.1 191.0,419.6 191.5,421.4 192.0,420.8 192.5,421.1 193.0,420.4 193.5,420.6 194.0,420.7 194.5,420.4 195.0,420.4 195.5,419.4 196.0,420.7 196.5,420.4 197.0,420.4 197.5,420.9 198.0,420.5 198.5,420.5 199.0,419.7 199.5,420.6 200.0,420.6 200.5,421.3 201.0,420.7 201.5,420.3 202.0,420.5 202.5,421.1 203.0,419.9 203.5,420.4 204.0,419.7 204.5,418.9 205.0,420.1 205.5,421.0 206.0,420.6 206.5,420.2 207.0,420.5 207.5,420.0 208.0,421.1 208.5,420.1 209.0,419.0 209.5,420.3 210.0,420.5 210.5,420.3 211.0,420.6 211.5,421.0 212.0,421.9 212.5,421.2 213.0,421.3 213.5,421.9 214.0,421.1 214.5,420.7 215.0,420.9 215.5,421.2 216.0,420.9 216.5,420.8 217.0,421.7 217.5,421.9 218.0,420.8 218.5,420.8 219.0,420.6 219.5,420.6 220.0,420.5 220.5,420.4 221.0,420.4 221.5,420.6 222.0,420.1 222.5,420.1 223.0,421.3 223.5,421.8 224.0,421.6 224.5,421.5 225.0,421.9 225.5,421.4 226.0,420.7 226.5,420.8 227.0,421.1 227.5,420.9 228.0,421.2 228.5,420.8 229.0,421.1 229.5,421.6 230.0,421.2 230.5,421.5 231.0,422.3 231.5,421.9 232.0,421.5 232.5,422.0 233.0,422.9 233.5,422.7 234.0,423.3 234.5,422.6 235.0,421.9 235.5,421.5 236.0,420.2 236.5,420.5 237.0,420.2 237.5,420.5 238.0,421.1 238.5,421.0 239.0,420.9 239.5,421.2 240.0,421.8 240.5,421.6 241.0,421.5 241.5,421.9 242.0,421.5 242.5,421.9 243.0,422.8 243.5,421.9 244.0,422.6 244.5,422.0 245.0,422.2 245.5,422.0 246.0,421.7 246.5,421.8 247.0,422.1 247.5,421.4 248.0,421.2 248.5,421.9 249.0,421.6 249.5,421.8 250.0,421.8 250.5,421.7 251.0,421.1 251.5,421.5 252.0,421.2 252.5,420.5 253.0,420.6 253.5,420.7 254.0,421.3 254.5,420.6 255.0,421.5 255.5,421.1 256.0,421.5 256.5,421.1 257.0,421.1 257.5,420.5 258.0,420.1 258.5,419.7 259.0,420.8 259.5,419.9 260.0,420.1 260.5,420.9 261.0,420.2 261.5,420.1 262.0,420.3 262.5,420.7 263.0,421.0 263.5,421.7 264.0,421.8 264.5,421.9 265.0,422.2 265.5,422.5 266.0,422.7 266.5,423.1 267.0,423.2 267.5,422.6 268.0,421.4 268.5,420.4 269.0,420.9 269.5,420.2 270.0,420.3 270.5,419.8 271.0,420.2 271.5,419.4 272.0,420.0 272.5,419.5 273.0,421.0 273.5,420.3 274.0,419.7 274.5,420.9 275.0,420.7 275.5,420.9 276.0,420.1 276.5,420.7 277.0,421.2 277.5,420.8 278.0,421.0 278.5,420.5 279.0,420.0 279.5,419.9 280.0,418.6 280.5,418.6 281.0,418.9 281.5,419.0 282.0,419.5 282.5,418.9 283.0,420.4 283.5,419.9 284.0,420.6 284.5,420.9 285.0,421.5 285.5,421.3 286.0,421.2 286.5,421.5 287.0,421.9 287.5,420.8 288.0,420.6 288.5,420.5 289.0,420.1 289.5,420.1 290.0,420.5 290.5,421.2 291.0,420.9 291.5,420.8 292.0,421.0 292.5,420.5 293.0,421.6 293.5,421.0 294.0,420.3 294.5,419.6 295.0,419.9 295.5,419.8 296.0,419.8 296.5,419.3 297.0,419.8 297.5,419.6 298.0,419.3 298.5,418.9 299.0,419.2 299.5,418.4 300.0,417.5 300.5,417.9 301.0,418.9 301.5,419.4 302.0,418.9 302.5,419.4 303.0,419.9 303.5,420.1 304.0,419.6 304.5,419.9 305.0,419.6 305.5,419.3 306.0,420.4 306.5,420.2 307.0,420.3 307.5,419.8 308.0,419.2 308.5,419.2 309.0,419.7 309.5,419.3 310.0,420.4 310.5,420.6 311.0,418.9 311.5,420.2 312.0,419.8 312.5,420.4 313.0,420.3 313.5,420.3 314.0,420.8 314.5,420.7 315.0,421.5 315.5,421.2 316.0,420.7 316.5,421.3 317.0,421.5 317.5,421.4 318.0,421.0 318.5,422.1 319.0,421.1 319.5,421.0 320.0,420.1 320.5,420.5 321.0,420.1 321.5,420.7 322.0,421.2 322.5,420.6 323.0,420.6 323.5,421.1 324.0,420.7 324.5,420.0 325.0,419.8 325.5,419.2 326.0,419.2 326.5,419.3 327.0,418.6 327.5,419.8 328.0,419.9 328.5,419.3 329.0,419.5 329.5,420.0 330.0,420.2 330.5,419.7 331.0,419.4 331.5,419.9 332.0,420.1 332.5,419.9 333.0,420.1 333.5,419.8" fill="none" stroke="#ffff00" stroke-width="1.25" stroke-linejoin="round"/>
</g>
<g id="labels">
<g font-family="'Liberation Sans', sans-serif" fill="#000" stroke="#000" stroke-width="0.3">
<g font-size="16px" text-anchor="end">
<text x="56.3" y="220.6">0.0</text>
<text x="56.3" y="175.4">1.0</text>
<text x="56.3" y="130.3">2.0</text>
<text x="56.3" y="85.2">3.0</text>
<text x="56.3" y="40.0">4.0</text>
<text x="56.3" y="435.0">0.0</text>
<text x="56.3" y="389.9">1.0</text>
<text x="56.3" y="344.7">2.0</text>
<text x="56.3" y="299.6">3.0</text>
<text x="56.3" y="254.4">4.0</text>
</g>
<g font-size="16.8px" text-anchor="middle">
<text x="75.0" y="447.8">0</text>
<text x="142.9" y="447.8">10</text>
<text x="210.9" y="447.8">20</text>
<text x="278.8" y="447.8">30</text>
<text x="346.8" y="447.8">40</text>
</g>
<text x="203.7" y="479.4" font-size="22.5px" text-anchor="middle">Time [ps]</text>
<g transform="translate(18.2,169.6) rotate(-90)"><text x="0" y="0" font-size="19.5px">ΔΘ</text><text x="27.5" y="9.2" font-size="14px">K</text><text x="42.6" y="0" font-size="22.5px">[E-5]</text></g>
<g transform="translate(18.2,384.1) rotate(-90)"><text x="0" y="0" font-size="19.5px">ΔΘ</text><text x="27.5" y="9.2" font-size="14px">K</text><text x="42.6" y="0" font-size="22.5px">[E-5]</text></g>
</g>
</g>
<g id="legend-top">
<rect x="350.0" y="12.4" width="86.69999999999999" height="144.6" fill="#fff" stroke="#000" stroke-width="1"/>
<g font-family="'Liberation Sans', sans-serif" font-size="11.5px" fill="#000" stroke="#000" stroke-width="0.25">
<line x1="358" y1="33.8" x2="388.6" y2="33.8" stroke="#000000" stroke-width="1.2"/>
<text x="391.8" y="38.0">120K</text>
<line x1="358" y1="48.2" x2="388.6" y2="48.2" stroke="#ff0000" stroke-width="1.2"/>
<text x="391.8" y="52.4">125K</text>
<line x1="358" y1="62.5" x2="388.6" y2="62.5" stroke="#00ff00" stroke-width="1.2"/>
<text x="391.8" y="66.7">130K</text>
<line x1="358" y1="76.9" x2="388.6" y2="76.9" stroke="#0000ff" stroke-width="1.2"/>
<text x="391.8" y="81.1">135K</text>
<line x1="358" y1="91.3" x2="388.6" y2="91.3" stroke="#00ffff" stroke-width="1.2"/>
<text x="391.8" y="95.5">140K</text>
<line x1="358" y1="105.6" x2="388.6" y2="105.6" stroke="#ff00ff" stroke-width="1.2"/>
<text x="391.8" y="109.8">142.5K</text>
<line x1="358" y1="120.0" x2="388.6" y2="120.0" stroke="#ffff00" stroke-width="1.2"/>
<text x="391.8" y="124.2">145K</text>
<line x1="358" y1="134.4" x2="388.6" y2="134.4" stroke="#808000" stroke-width="1.2"/>
<text x="391.8" y="138.6">147.5K</text>
</g>
</g>
<g id="legend-bottom">
<rect x="349.9" y="242.8" width="86.80000000000001" height="125.5" fill="#fff" stroke="#000" stroke-width="1"/>
<g font-family="'Liberation Sans', sans-serif" font-size="11.5px" fill="#000" stroke="#000" stroke-width="0.25">
<line x1="357.5" y1="262.3" x2="388.0" y2="262.3" stroke="#000000" stroke-width="1.2"/>
<text x="391.5" y="266.5">147.5K</text>
<line x1="357.5" y1="276.7" x2="388.0" y2="276.7" stroke="#ff0000" stroke-width="1.2"/>
<text x="391.5" y="280.9">150K</text>
<line x1="357.5" y1="291.0" x2="388.0" y2="291.0" stroke="#00ff00" stroke-width="1.2"/>
<text x="391.5" y="295.2">152.5K</text>
<line x1="357.5" y1="305.4" x2="388.0" y2="305.4" stroke="#0000ff" stroke-width="1.2"/>
<text x="391.5" y="309.6">155K</text>
<line x1="357.5" y1="319.8" x2="388.0" y2="319.8" stroke="#00ffff" stroke-width="1.2"/>
<text x="391.5" y="324.0">157.5K</text>
<line x1="357.5" y1="334.1" x2="388.0" y2="334.1" stroke="#ff00ff" stroke-width="1.2"/>
<text x="391.5" y="338.3">160K</text>
<line x1="357.5" y1="348.5" x2="388.0" y2="348.5" stroke="#ffff00" stroke-width="1.2"/>
<text x="391.5" y="352.7">165K</text>
</g>
</g>
</svg>
</body></html>
